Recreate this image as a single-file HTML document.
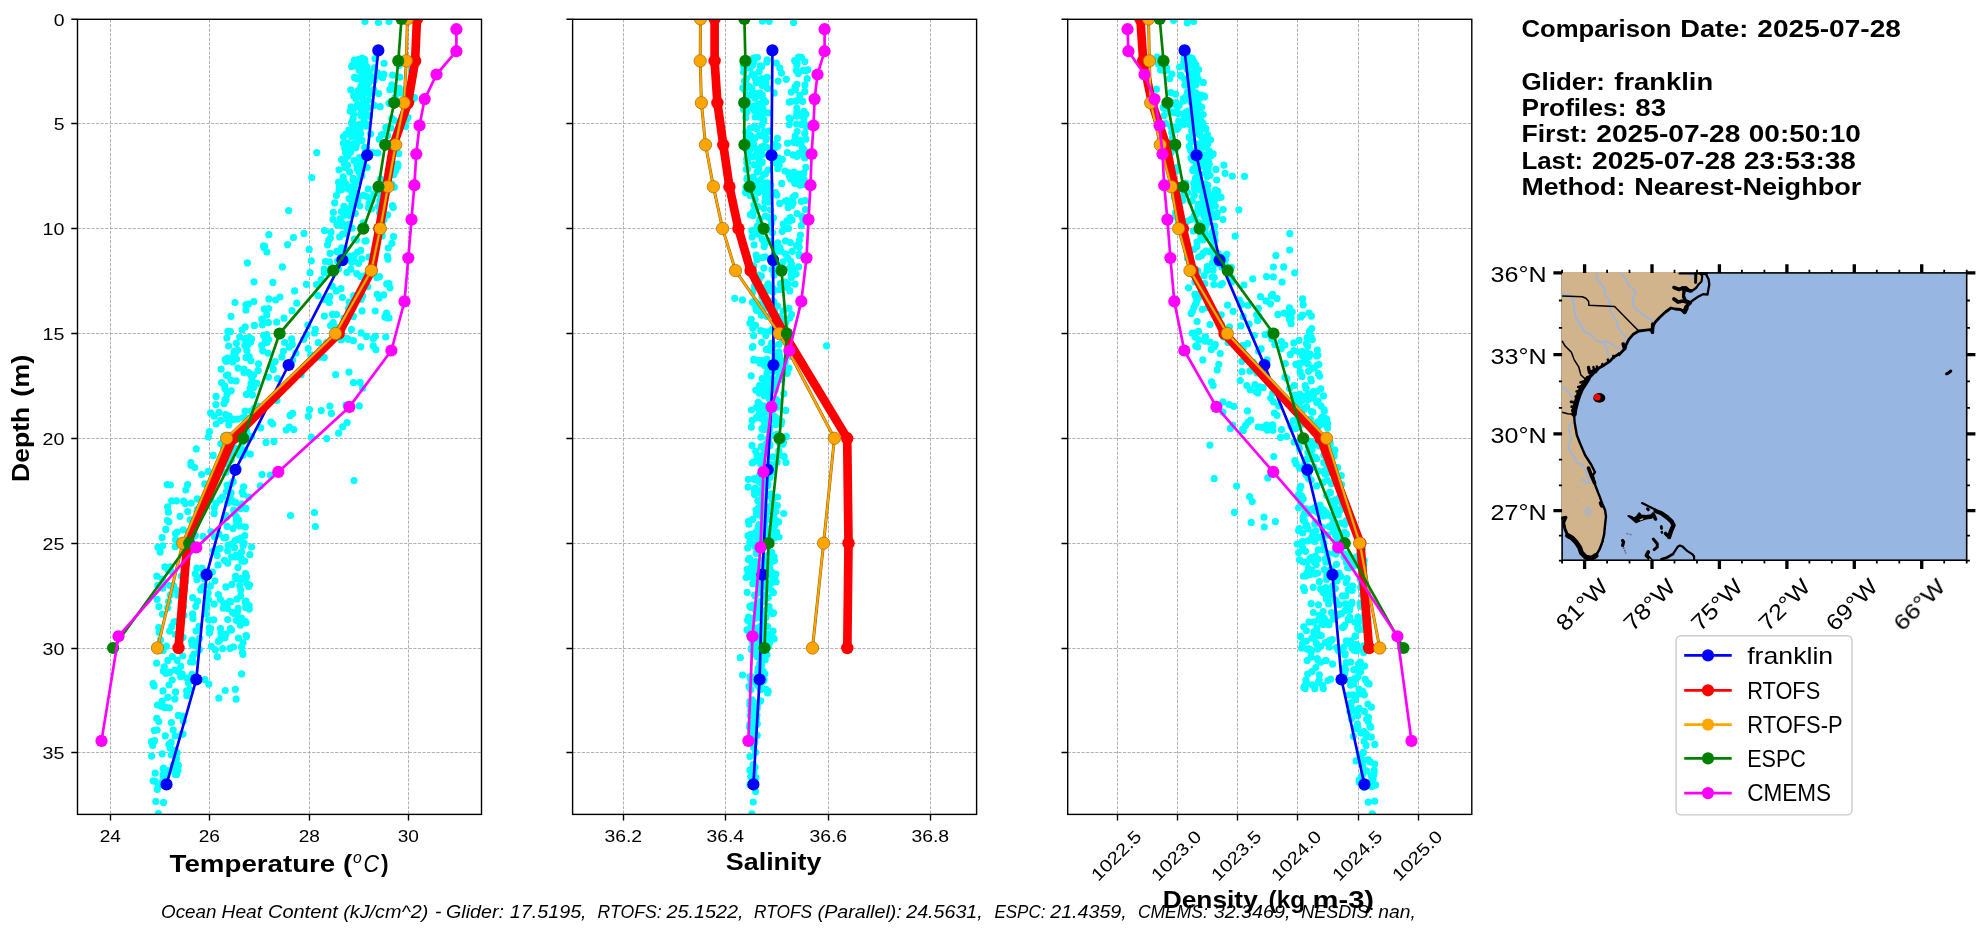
<!DOCTYPE html>
<html><head><meta charset="utf-8"><title>Glider comparison</title>
<style>html,body{margin:0;padding:0;background:#fff;}body{width:1978px;height:934px;overflow:hidden;}</style>
</head><body>
<svg width="1978" height="934" viewBox="0 0 1978 934" font-family='"Liberation Sans", sans-serif' style="display:block">
<rect width="1978" height="934" fill="#fff"/>
<defs>
<clipPath id="cp0"><rect x="77.5" y="19.3" width="404.0" height="795.1"/></clipPath>
<clipPath id="cp1"><rect x="572.6" y="19.3" width="404.0" height="795.1"/></clipPath>
<clipPath id="cp2"><rect x="1067.7" y="19.3" width="404.0999999999999" height="795.1"/></clipPath>
</defs>
<path d="M77.5 123.5H481.5M77.5 228.5H481.5M77.5 333.5H481.5M77.5 438.5H481.5M77.5 543.5H481.5M77.5 648.5H481.5M77.5 752.5H481.5M110.5 19.3V814.4M209.5 19.3V814.4M309.5 19.3V814.4M408.5 19.3V814.4" stroke="#a6a6a6" stroke-width="0.87" stroke-dasharray="3.2 1.4" fill="none"/>
<g clip-path="url(#cp0)">
<path d="M365 21.5h0M378.5 22.5h0M389 21.5h0M158.4 786.1h0M155.8 801.5h0M163.5 802.4h0M158.4 813.7h0M354 480.5h0M290.5 515.5h0M314.5 512.5h0M315.4 526.5h0M262 474.5h0M361.3 116h0M362.4 112.6h0M353.7 114.3h0M358.1 62.1h0M362.4 103.8h0M363.8 105.1h0M356.3 78.1h0M356.6 66.1h0M363.7 68.2h0M363.2 86.7h0M369.5 115.9h0M365.7 85.4h0M369.6 93.7h0M367.2 73.4h0M357.9 90.9h0M356.8 78.7h0M369.3 72.2h0M359.6 89.3h0M362.3 58.2h0M362.8 65.8h0M361 85.8h0M363.9 92.8h0M359.5 67h0M360.8 114.2h0M365.7 104h0M361.7 75.6h0M361 59.4h0M374.4 67.8h0M366.4 66.4h0M361.1 107.9h0M358.4 59.5h0M366.6 77.8h0M351 106.8h0M364.2 85.7h0M367.3 106.9h0M357.5 104.6h0M361.2 106.7h0M366 68.3h0M368.4 83.6h0M367.6 107.6h0M366.4 86.6h0M353.7 96.1h0M359.2 78.1h0M351.6 66.6h0M361.6 112.4h0M365.9 108.3h0M364.2 100.9h0M356.2 61.3h0M367.7 81.1h0M364.5 59.3h0M366.9 87.9h0M370.6 76.3h0M366.6 114.6h0M364.9 61.5h0M364.5 83h0M368.5 100h0M350.2 111.1h0M362.6 79h0M352.1 109.4h0M361.9 67.7h0M358.6 92.7h0M373.7 89.6h0M363.7 87.5h0M354.6 77.4h0M352.4 65h0M351.8 108.4h0M362.8 61.3h0M362.7 98.2h0M362.5 95.9h0M359.1 70.2h0M362.2 83.4h0M357.8 107.2h0M374.2 80.3h0M350.8 89.8h0M353.4 113.2h0M366.8 108.7h0M366.4 108.2h0M365.4 82h0M361.6 109.3h0M365.8 79.9h0M361 70h0M354.5 60.2h0M351.7 110.5h0M366.9 67.1h0M368.5 75.8h0M365.5 83.2h0M355.8 98.7h0M363.4 86.2h0M383.8 74.2h0M378.6 93.6h0M399 88.7h0M391.8 84.9h0M395.1 97.3h0M391 101.3h0M384.1 63.3h0M374.2 105.4h0M399.1 65.5h0M400.3 92.9h0M400.4 103h0M392.6 75.2h0M399.8 77.2h0M378.9 74.9h0M380.2 106.7h0M389.8 89.6h0M382.7 77.7h0M380.8 76.6h0M389 103.3h0M396 90.4h0M377.3 72.7h0M375 58.7h0M407.9 117.4h0M414.5 97.7h0M406.5 88.5h0M399.3 88.4h0M401.8 103.3h0M412.5 99.6h0M411.5 70.4h0M411.6 96.8h0M350.7 152.1h0M366.1 126.1h0M347.1 143h0M349.3 144.6h0M366.9 149h0M348.9 130.2h0M343.3 143.3h0M354.2 160.7h0M354.5 134.3h0M346.8 144.8h0M349 148h0M356.7 164.5h0M348 156.1h0M344.8 148.2h0M359.7 129.4h0M347.6 165h0M349 152.5h0M364.1 120.6h0M361.9 140.4h0M357.4 164.5h0M353.1 125.4h0M345.6 152.7h0M359.6 157.7h0M351.6 136.6h0M354.4 126.7h0M353.7 127.8h0M345 167.5h0M347.9 143.1h0M367 124.6h0M352.6 120.5h0M344.3 163.7h0M358.8 136.6h0M357.7 137.8h0M353.2 118.4h0M360.8 133.6h0M355.5 148h0M344.6 161.3h0M353.9 144.9h0M346 134.1h0M368.4 153.6h0M365.3 150.1h0M358.6 166.4h0M351.9 145.2h0M359.9 131.7h0M363 161.4h0M364.7 147.3h0M356.4 144.5h0M344.7 159.4h0M354 143.7h0M343.5 136.7h0M351.5 123.1h0M341.6 159.7h0M359.8 124.4h0M347.5 145.3h0M358.6 124.6h0M377.7 152.9h0M389.9 165.8h0M387.7 135.7h0M385.8 127.4h0M398 164.6h0M383.8 134h0M386.3 144.2h0M367.1 167.5h0M391 127.9h0M381.3 134.8h0M372.6 152.7h0M406.6 119.5h0M370.6 133.8h0M394.8 120.8h0M379.3 139.2h0M397.6 167h0M398.7 153.7h0M405.6 126.3h0M391.8 118.4h0M397.4 164.1h0M341.5 211.6h0M341.9 225.4h0M342.6 225.1h0M343.4 180h0M351.5 199.1h0M348.4 188.9h0M354.8 192.3h0M349.1 198.6h0M352 228.2h0M349 224h0M350.3 227.5h0M339.4 225.1h0M357.4 194.7h0M336.4 195.5h0M342.9 212.5h0M352.7 212.5h0M350.4 208.1h0M333.3 212.3h0M346.6 227.3h0M351 210.9h0M340.2 218.7h0M353 200.1h0M339.4 186.8h0M349.8 215.7h0M343.2 176.9h0M351.9 191.3h0M354.4 186.7h0M352.5 198.3h0M340.8 184.6h0M344.9 224.8h0M341 222.1h0M353.1 178.4h0M345.6 183.5h0M358.9 172.1h0M333 219.5h0M353.4 202.8h0M357.4 181.5h0M351.9 202.7h0M351.6 212.9h0M343.9 206.3h0M341.7 189.5h0M353.1 179.9h0M362.4 169.1h0M339 190.5h0M357.2 168.7h0M353.6 194.2h0M357.8 200.1h0M348.9 214.9h0M334.7 202.9h0M349.2 186.9h0M346.5 211.3h0M361.9 175.7h0M344.9 215.1h0M352 192.5h0M360 174.9h0M356.4 193.6h0M336.9 224.6h0M350.3 212.7h0M338.6 182.2h0M349.6 171.9h0M350.5 209.8h0M339 169.8h0M355.3 213.3h0M395.7 170.8h0M388.3 169.9h0M363.1 222.8h0M378.4 206.6h0M363.6 223.4h0M366.8 196.5h0M386 193.9h0M356.2 200.4h0M383.2 186.1h0M377.6 227.2h0M382.1 224.6h0M380.4 208.5h0M392.4 205.6h0M373.8 194.3h0M368.3 189h0M393.3 173.8h0M383.9 219.7h0M369 203.3h0M379.9 200.7h0M371.5 208.8h0M363.6 195.4h0M393.7 174.6h0M380.3 188.5h0M360.9 228.4h0M371.8 200.1h0M377.4 187.7h0M393.3 207.5h0M368.5 207.8h0M379.5 213h0M391.8 184.2h0M394.3 172.7h0M380.7 195.9h0M360.4 168.7h0M359.7 205.8h0M383.3 209.2h0M380.5 179.1h0M390.2 184.5h0M387.7 214.8h0M394.3 187.2h0M316.8 152.6h0M311.7 177.7h0M288.6 210.6h0M386.8 283.9h0M306.4 284.3h0M382.2 235.9h0M338.5 269h0M376.9 277.6h0M310.1 272.7h0M329.7 261.9h0M340.8 254.4h0M368.9 257.2h0M331 232.2h0M373.1 255.1h0M339.6 236.8h0M365 241.1h0M350.8 269.2h0M378.3 235.8h0M364.1 282.6h0M340.9 288.7h0M357.5 252h0M356.8 273.7h0M321.2 279.6h0M352.8 260.3h0M356.4 239.8h0M358.5 263.3h0M336.9 251.4h0M328.7 240h0M361.1 299.5h0M324.2 299.5h0M338.2 251.8h0M366.1 240.8h0M342.4 297.5h0M344.7 248.3h0M346.3 233.5h0M366.4 285.2h0M324.5 230.6h0M324.5 273h0M390 287.8h0M365.2 275.7h0M332.2 286.2h0M383.8 294.8h0M388 259.1h0M354.2 261.2h0M358.5 297h0M330 253.4h0M329.8 296.4h0M342.4 258.2h0M343.9 259.9h0M362.6 295.9h0M388.3 248h0M346.9 272.5h0M354.4 255.1h0M318 295.6h0M349.8 256.4h0M377.2 294.3h0M316.5 284.6h0M387.3 256.3h0M361.8 258.8h0M341.6 247.8h0M337.6 260.9h0M360.7 276.4h0M367.7 286.7h0M324.3 269.2h0M373.6 261.5h0M325.4 261.5h0M351.7 261.9h0M379.5 276.6h0M342.7 234.1h0M327.5 244.8h0M353.9 295.6h0M391.9 243.3h0M336.2 290.9h0M360.7 250.4h0M350.3 260.5h0M353.6 296.1h0M389 283.6h0M393.5 236.7h0M379.1 298.1h0M330.4 238h0M354.3 239.1h0M294.6 290.9h0M304 233.4h0M264.5 246h0M309.2 249.4h0M311.3 260.8h0M266.9 252h0M264.2 247.7h0M263.6 245.9h0M272.9 282.4h0M268.9 298.9h0M254 281.8h0M280 297h0M287.6 244.6h0M268.9 234.7h0M282.4 266.9h0M247.4 262.9h0M293.5 237.5h0M254.4 325.4h0M248.4 304.2h0M239.7 337h0M244.7 338.9h0M231 316.3h0M264.4 308.9h0M268.4 322.6h0M235 302.5h0M266.7 314.9h0M262.2 319.6h0M275.6 300h0M262.3 324.8h0M266.8 334.6h0M245.9 304.8h0M276.7 322.2h0M246 310.2h0M230.4 331.6h0M242.1 329.8h0M245.2 326.8h0M261.8 319h0M253.8 301.5h0M263.6 335.4h0M268.6 308.5h0M227.9 331.4h0M335.6 336h0M330.6 325.6h0M362 310.9h0M341.1 340h0M349.2 302.2h0M384.9 316.9h0M389 317.9h0M280.3 336h0M307.8 325.1h0M348.5 308.4h0M366.4 336.4h0M354.1 301h0M315.3 329.3h0M385.8 337h0M296.7 303.2h0M284 318.1h0M324.4 316.1h0M361.1 332.9h0M351.4 329.4h0M314.6 332.9h0M329.3 302.5h0M353.4 316.4h0M386.9 317.8h0M335 326.9h0M336.6 314.5h0M340.1 338h0M386.6 313.1h0M333.2 322.6h0M306.5 334.4h0M332.5 314.4h0M291.6 338.9h0M373.4 338.4h0M375.2 311h0M375.4 336.3h0M344 318.2h0M292 310.7h0M258.5 363.8h0M236.5 359h0M226.3 361.5h0M232.7 361.9h0M228.6 346h0M253.6 374.9h0M258.1 370.4h0M250.7 374.6h0M261.8 345.4h0M256.9 383.4h0M248.7 372.7h0M235.7 352.7h0M250.9 360.7h0M246.6 338h0M226.9 338h0M265.3 341.3h0M247.9 344.6h0M249.2 356.6h0M226.5 375.3h0M225.2 359.6h0M221.6 382.7h0M244.9 345.4h0M227.4 358.1h0M238 368.1h0M231 380.3h0M268.6 339.5h0M249.3 337.7h0M262.7 350.8h0M236.4 343.3h0M244 369.1h0M234.2 351.6h0M246 357.4h0M236.1 380.9h0M266 341.7h0M250.8 374.9h0M251.5 338.9h0M233.8 354.6h0M252 379.1h0M227.9 374.8h0M266.9 342.5h0M221.1 369.2h0M246.9 350.5h0M250.5 342.2h0M237.7 350.2h0M233 357.6h0M244 372.5h0M281.9 356.9h0M283.4 351.3h0M301.1 374.7h0M292.3 344.4h0M308.2 348.5h0M335.7 374.7h0M375.9 349.7h0M275.2 361.6h0M311.3 355h0M360.8 346.8h0M295.9 353.2h0M284.7 342.5h0M360.1 382.3h0M315.1 357.9h0M310.7 354.9h0M303.7 339.3h0M271.7 364.9h0M346.2 338.2h0M348.2 339.3h0M289.3 347.1h0M273.3 369.4h0M349 372.1h0M306.6 364h0M318.3 342.7h0M353.4 340.7h0M319.8 357.2h0M324.2 357.4h0M326.7 342.7h0M353.5 382.7h0M373.2 345.9h0M292.7 360h0M277.5 378.5h0M268 353.1h0M268.4 377.1h0M250.1 390.6h0M242.9 435.4h0M246.5 394.4h0M226.1 400.1h0M226.9 418.9h0M224.5 385.8h0M250.9 418.3h0M215.9 404.6h0M251 383.8h0M210.6 412.9h0M231.2 390.8h0M233 419.4h0M234.3 434.2h0M246.6 430.7h0M229.2 416.2h0M225 399.5h0M243.2 417.5h0M216.2 424h0M225.7 414.5h0M254.4 408h0M231.2 439.8h0M227.9 435.4h0M244.7 417.2h0M216.1 396.4h0M219 412.4h0M234.9 439.6h0M220.6 420.4h0M250 388.5h0M224.2 436.2h0M253.4 387.7h0M224.1 403.6h0M228.8 424.8h0M224.9 388.6h0M237.7 419.1h0M245.1 411h0M251.5 436.3h0M209.4 431.7h0M248.1 422.6h0M208.3 437h0M241.6 431.1h0M248.9 418.9h0M252.6 395.1h0M245.4 422.8h0M250.9 411h0M214.2 416.2h0M227 394.3h0M260.2 406.9h0M331.4 413.4h0M289.4 427.2h0M346 405.1h0M276.9 400.5h0M258.5 406.4h0M309.5 409.7h0M290.1 415.4h0M311.3 437.2h0M292.6 413.4h0M272.7 424h0M342.7 426.8h0M270.9 422h0M347.1 422.6h0M338.6 433.2h0M286.3 429.8h0M308.4 416.3h0M362.6 388.1h0M321.2 410.6h0M293.8 429.6h0M260.7 427.8h0M359.3 405.9h0M326.8 438.6h0M329.9 406h0M227.9 489.1h0M208.2 471.4h0M194.8 467.5h0M241.7 449.6h0M239.6 454.9h0M231.3 484h0M233.2 481.7h0M187.6 484.7h0M250.3 454.2h0M223.5 448.8h0M227 485h0M196.3 448.9h0M226.6 491.4h0M231.2 459.8h0M232.3 443.2h0M204.8 483.9h0M213.2 455.4h0M229.2 446.1h0M225.8 472.3h0M214 473.4h0M190.9 465.3h0M226.5 463.8h0M242.8 441.8h0M220.9 443.7h0M185.8 490h0M232.1 453.3h0M243.6 486.8h0M190.9 462.7h0M237.9 468.1h0M244.7 450.4h0M243 455.3h0M201.6 474.5h0M222.5 472.5h0M234.9 448.2h0M242 442.5h0M228.4 445.1h0M260.4 485.8h0M266 442.4h0M274 441.4h0M270.5 475.2h0M170.4 485h0M167.2 484.5h0M187.7 511.5h0M210.9 531.6h0M197.3 498.8h0M167.6 506.9h0M196.6 518h0M225.1 516.6h0M193.3 546.8h0M175.5 533.5h0M175.2 546.7h0M197.5 509.4h0M195 524.7h0M171.7 500.8h0M222.4 497h0M162.1 537.6h0M214.2 513.4h0M197 511.4h0M177.2 532.1h0M216 503.5h0M194.5 536.1h0M191.3 538.5h0M195.1 522.3h0M210.7 498.8h0M226.1 515.6h0M162.6 545.8h0M165.8 529.4h0M195.3 535.4h0M183.3 529.8h0M219 534.1h0M185.3 503.4h0M175.6 539.7h0M176.5 500.8h0M167.5 520.5h0M192.4 533.1h0M180 516.3h0M183.6 501.2h0M197.4 515.2h0M197.4 511.8h0M200 506.8h0M168.4 512.2h0M214.5 536.8h0M168.9 521.8h0M230.8 493.6h0M203.1 536.3h0M191.2 503.1h0M220.1 499.9h0M226.6 517.1h0M190.2 519.8h0M214.3 507.6h0M245.3 526.9h0M230.7 498.7h0M238.7 520.2h0M234.2 513.8h0M227.7 502.9h0M240.6 538h0M248.8 497.2h0M236.2 516.5h0M240.9 506.9h0M234.1 502h0M237.3 539.5h0M244.1 543h0M227.1 526.3h0M236.7 524.2h0M233.8 510.2h0M244.7 535.7h0M245.9 508.4h0M231.6 500.2h0M243.2 494.2h0M224 538h0M232 544h0M235.6 502.4h0M225.9 537.4h0M238.4 539.4h0M243.1 545.8h0M235.1 540.5h0M240.8 508.6h0M239.8 525.9h0M241.9 504h0M231.1 492.9h0M236.3 520h0M242.2 492h0M228.1 545h0M233 528.6h0M192.6 613.9h0M183 637.3h0M175.9 589.9h0M158.7 627.5h0M183 613.9h0M187.1 558h0M195.3 573.8h0M175.5 634.5h0M178.8 622.4h0M183.8 615.2h0M193 618.4h0M198 646.9h0M157.1 599.3h0M157.9 585.4h0M177.8 595.2h0M157.9 547.3h0M171.8 626.4h0M196.9 568.2h0M162.4 579.1h0M160.2 552.2h0M168.1 570.1h0M163.1 650.4h0M156.8 576.1h0M191.6 641.4h0M186.2 559.7h0M192.6 597.7h0M196.1 630.9h0M170.3 595.1h0M183.7 606.5h0M170.3 566.9h0M162.5 614.1h0M176.2 621.4h0M168.5 601.5h0M162.6 588.2h0M195.8 606.3h0M181.3 576h0M184.7 589.5h0M173.8 622.2h0M167.7 607.8h0M185.4 582.1h0M170.7 571.2h0M164.9 566.9h0M158.9 606.6h0M192.2 644.8h0M180.1 637.6h0M159.1 632.5h0M166.4 646.2h0M196.1 547.8h0M196.9 579.7h0M192.3 640.2h0M180.4 631.1h0M185.8 557h0M197.7 577h0M162.5 584.9h0M169.7 631.1h0M186.1 559.4h0M169.7 585.5h0M173.4 585.6h0M158.1 645.8h0M196.6 641.8h0M197.6 601.2h0M160.5 639.9h0M213.8 619.8h0M229.5 601.4h0M227.7 563.2h0M220.4 599.5h0M251.6 547h0M249.5 584.9h0M231.6 557.1h0M230 648.3h0M210.4 586.2h0M208.2 593.1h0M215.4 649.8h0M225.9 586.9h0M249.8 554.7h0M240.5 625.1h0M220 639.4h0M249.1 605.5h0M230.6 602h0M240.8 590h0M224.5 560.3h0M214.9 580.8h0M214.2 604.1h0M244.9 621h0M249.1 605.8h0M236.2 556.9h0M240.7 595.8h0M226.9 605h0M241.3 578.7h0M231.5 630.1h0M241.6 646.9h0M241.1 579.6h0M236 555h0M225.1 637.8h0M235.6 576.1h0M245.5 573.6h0M238.5 638h0M226 634h0M246.1 601.1h0M221 633.6h0M246.7 576.8h0M242 561.2h0M238 567.6h0M241.6 552.1h0M248.6 586.5h0M249.3 609.1h0M237.4 611.7h0M220.5 628.5h0M218.4 594.5h0M208.4 599.7h0M246.7 583.3h0M246.1 622.8h0M246.1 635.6h0M224 603.6h0M217.2 555.4h0M241.4 618h0M246.5 636.4h0M236.6 613.5h0M227.7 550.9h0M227.7 619.5h0M212.4 572h0M244.7 561.1h0M239.7 585.6h0M238.1 608.3h0M222.6 648.6h0M211.3 646.3h0M236.2 620.3h0M235.7 578.8h0M232.4 612.3h0M233.5 646.8h0M213.6 550.8h0M218 564.9h0M231.8 584.4h0M210.6 628.6h0M246.3 604.1h0M236.9 599.2h0M209.4 632.9h0M245.2 602.2h0M223.2 608.2h0M240.1 624.2h0M220.2 548.5h0M209.3 627.8h0M245.7 607.4h0M230.3 628.5h0M227.5 608.5h0M234.5 547.7h0M241.2 558h0M243.1 642.6h0M218.4 641.3h0M234.2 613.4h0M208.5 619.8h0M218.2 549h0M204.6 578.7h0M200.7 589.9h0M199.4 649.8h0M203.5 586.6h0M203.6 572.4h0M206.3 604.7h0M199.6 638.3h0M202.2 568.3h0M206 613.6h0M199 626.4h0M206.8 606.9h0M201.8 587.9h0M162.2 701.2h0M164.3 666.9h0M153.1 683.7h0M187 678h0M182.8 656h0M192 674.3h0M186.7 690.9h0M174.9 699.1h0M167.9 660.4h0M178.4 671.7h0M192.9 661.9h0M186.9 695.7h0M188.5 682.8h0M169 685h0M190.6 661.9h0M194.1 654h0M175.6 691.9h0M180.7 676.7h0M163.3 670.9h0M163.9 670.5h0M182.2 674.2h0M172.4 656.5h0M165.8 673.3h0M172.2 680h0M189.6 689.4h0M167.9 697.3h0M174.8 670h0M169.6 672.4h0M180.7 666.3h0M177.1 660.3h0M163 690.9h0M156.6 663.2h0M192.6 656.7h0M154.1 685.9h0M218.9 698.2h0M242.5 652.6h0M243 654.3h0M241.6 673.9h0M225.2 690.5h0M236.1 699.2h0M204.8 679.7h0M208.8 684.2h0M217.4 656.8h0M235.4 689.3h0M175.2 736h0M168.6 784.5h0M157.3 789.3h0M163.2 768.5h0M165.3 735.8h0M151.4 741.5h0M163.5 774.2h0M157.5 705h0M155.2 773.2h0M175.3 774.5h0M154.5 730.4h0M175.1 750h0M177 752.9h0M163.5 768.2h0M164.2 707.5h0M152.7 745.5h0M182.3 716.1h0M178.4 715.4h0M176.6 774.4h0M155.1 781.3h0M165.8 707.3h0M162.3 781.8h0M168.9 744.4h0M171.2 742.4h0M153.2 780.8h0M175 768.1h0M178.4 765.2h0M181.8 734.1h0M176.5 758.9h0M156.7 718.3h0M169.4 707.8h0M154.6 740.7h0M165.6 784.9h0M158.8 721.5h0M157.1 730h0M173.2 730.1h0M161 706.2h0M183.3 721.1h0M178 770.4h0M162.2 753.8h0M168.9 770.7h0M176.2 752h0M171.4 722.5h0M163.1 775.8h0M151.6 756.1h0M166.7 774.3h0M183 734.1h0M171.3 755h0M170 747.9h0M173.2 765h0" stroke="#00ffff" stroke-width="7.2" stroke-linecap="round" fill="none"/>
<polyline points="378.3,50.4 367.2,155.3 342.4,260.1 288.6,365 235.4,469.8 206.6,574.7 196.3,679.5 166.5,784.4" fill="none" stroke="#0000ff" stroke-width="2.7" stroke-linejoin="round"/>
<circle cx="378.3" cy="50.4" r="6.1" fill="#0000ff"/>
<circle cx="367.2" cy="155.3" r="6.1" fill="#0000ff"/>
<circle cx="342.4" cy="260.1" r="6.1" fill="#0000ff"/>
<circle cx="288.6" cy="365" r="6.1" fill="#0000ff"/>
<circle cx="235.4" cy="469.8" r="6.1" fill="#0000ff"/>
<circle cx="206.6" cy="574.7" r="6.1" fill="#0000ff"/>
<circle cx="196.3" cy="679.5" r="6.1" fill="#0000ff"/>
<circle cx="166.5" cy="784.4" r="6.1" fill="#0000ff"/>
<polyline points="417,18.9 415.1,60.9 408,102.8 393.5,144.8 386.5,186.7 379.3,228.6 371.5,270.6 338.7,333.5 233,438.3 187.3,543.2 178.5,648" fill="none" stroke="#ff0000" stroke-width="8.7" stroke-linejoin="round"/>
<circle cx="417" cy="18.9" r="6.2" fill="#ff0000"/>
<circle cx="415.1" cy="60.9" r="6.2" fill="#ff0000"/>
<circle cx="408" cy="102.8" r="6.2" fill="#ff0000"/>
<circle cx="393.5" cy="144.8" r="6.2" fill="#ff0000"/>
<circle cx="386.5" cy="186.7" r="6.2" fill="#ff0000"/>
<circle cx="379.3" cy="228.6" r="6.2" fill="#ff0000"/>
<circle cx="371.5" cy="270.6" r="6.2" fill="#ff0000"/>
<circle cx="338.7" cy="333.5" r="6.2" fill="#ff0000"/>
<circle cx="233" cy="438.3" r="6.2" fill="#ff0000"/>
<circle cx="187.3" cy="543.2" r="6.2" fill="#ff0000"/>
<circle cx="178.5" cy="648" r="6.2" fill="#ff0000"/>
<polyline points="407.4,18.9 406.3,60.9 404,102.8 395.7,144.8 388,186.7 380.3,228.6 371.3,270.6 335.5,333.5 226.6,438.3 182.8,543.2 157.5,648" fill="none" stroke="#9c6200" stroke-width="3.0" stroke-linejoin="round"/>
<polyline points="407.4,18.9 406.3,60.9 404,102.8 395.7,144.8 388,186.7 380.3,228.6 371.3,270.6 335.5,333.5 226.6,438.3 182.8,543.2 157.5,648" fill="none" stroke="#ffa500" stroke-width="2.0" stroke-linejoin="round"/>
<circle cx="407.4" cy="18.9" r="6.2" fill="#ffa500" stroke="#a06a00" stroke-width="0.7"/>
<circle cx="406.3" cy="60.9" r="6.2" fill="#ffa500" stroke="#a06a00" stroke-width="0.7"/>
<circle cx="404" cy="102.8" r="6.2" fill="#ffa500" stroke="#a06a00" stroke-width="0.7"/>
<circle cx="395.7" cy="144.8" r="6.2" fill="#ffa500" stroke="#a06a00" stroke-width="0.7"/>
<circle cx="388" cy="186.7" r="6.2" fill="#ffa500" stroke="#a06a00" stroke-width="0.7"/>
<circle cx="380.3" cy="228.6" r="6.2" fill="#ffa500" stroke="#a06a00" stroke-width="0.7"/>
<circle cx="371.3" cy="270.6" r="6.2" fill="#ffa500" stroke="#a06a00" stroke-width="0.7"/>
<circle cx="335.5" cy="333.5" r="6.2" fill="#ffa500" stroke="#a06a00" stroke-width="0.7"/>
<circle cx="226.6" cy="438.3" r="6.2" fill="#ffa500" stroke="#a06a00" stroke-width="0.7"/>
<circle cx="182.8" cy="543.2" r="6.2" fill="#ffa500" stroke="#a06a00" stroke-width="0.7"/>
<circle cx="157.5" cy="648" r="6.2" fill="#ffa500" stroke="#a06a00" stroke-width="0.7"/>
<polyline points="401.5,18.9 398.3,60.9 394.2,102.8 385.2,144.8 378.5,186.7 363.3,228.6 333.2,270.6 279.6,333.5 243.3,438.3 189.2,543.2 113.1,648" fill="none" stroke="#008000" stroke-width="2.7" stroke-linejoin="round"/>
<circle cx="401.5" cy="18.9" r="6.1" fill="#008000"/>
<circle cx="398.3" cy="60.9" r="6.1" fill="#008000"/>
<circle cx="394.2" cy="102.8" r="6.1" fill="#008000"/>
<circle cx="385.2" cy="144.8" r="6.1" fill="#008000"/>
<circle cx="378.5" cy="186.7" r="6.1" fill="#008000"/>
<circle cx="363.3" cy="228.6" r="6.1" fill="#008000"/>
<circle cx="333.2" cy="270.6" r="6.1" fill="#008000"/>
<circle cx="279.6" cy="333.5" r="6.1" fill="#008000"/>
<circle cx="243.3" cy="438.3" r="6.1" fill="#008000"/>
<circle cx="189.2" cy="543.2" r="6.1" fill="#008000"/>
<circle cx="113.1" cy="648" r="6.1" fill="#008000"/>
<polyline points="456.4,29.2 456.4,51.2 436.5,74.5 424.7,99.1 419.5,125.5 416.3,154 414.4,185.2 411.5,219.6 408.3,258 404.5,301.4 391.4,350.5 349.4,406.9 278.3,471.9 196.3,547.4 118.5,636.3 101.5,740.9" fill="none" stroke="#ff00ff" stroke-width="2.7" stroke-linejoin="round"/>
<circle cx="456.4" cy="29.2" r="6.1" fill="#ff00ff"/>
<circle cx="456.4" cy="51.2" r="6.1" fill="#ff00ff"/>
<circle cx="436.5" cy="74.5" r="6.1" fill="#ff00ff"/>
<circle cx="424.7" cy="99.1" r="6.1" fill="#ff00ff"/>
<circle cx="419.5" cy="125.5" r="6.1" fill="#ff00ff"/>
<circle cx="416.3" cy="154" r="6.1" fill="#ff00ff"/>
<circle cx="414.4" cy="185.2" r="6.1" fill="#ff00ff"/>
<circle cx="411.5" cy="219.6" r="6.1" fill="#ff00ff"/>
<circle cx="408.3" cy="258" r="6.1" fill="#ff00ff"/>
<circle cx="404.5" cy="301.4" r="6.1" fill="#ff00ff"/>
<circle cx="391.4" cy="350.5" r="6.1" fill="#ff00ff"/>
<circle cx="349.4" cy="406.9" r="6.1" fill="#ff00ff"/>
<circle cx="278.3" cy="471.9" r="6.1" fill="#ff00ff"/>
<circle cx="196.3" cy="547.4" r="6.1" fill="#ff00ff"/>
<circle cx="118.5" cy="636.3" r="6.1" fill="#ff00ff"/>
<circle cx="101.5" cy="740.9" r="6.1" fill="#ff00ff"/>
</g>
<rect x="77.5" y="19.3" width="404.0" height="795.1" fill="none" stroke="#000" stroke-width="1.4"/>
<path d="M77.5 19.3h-6.2M77.5 123.5h-6.2M77.5 228.5h-6.2M77.5 333.5h-6.2M77.5 438.5h-6.2M77.5 543.5h-6.2M77.5 648.5h-6.2M77.5 752.5h-6.2M110.5 814.4v6.2M209.5 814.4v6.2M309.5 814.4v6.2M408.5 814.4v6.2" stroke="#000" stroke-width="1.4" fill="none"/>
<path d="M572.6 123.5H976.6M572.6 228.5H976.6M572.6 333.5H976.6M572.6 438.5H976.6M572.6 543.5H976.6M572.6 648.5H976.6M572.6 752.5H976.6M623.5 19.3V814.4M725.5 19.3V814.4M828.5 19.3V814.4M930.5 19.3V814.4" stroke="#a6a6a6" stroke-width="0.87" stroke-dasharray="3.2 1.4" fill="none"/>
<g clip-path="url(#cp1)">
<path d="M762.4 20.9h0M769.2 21.3h0M793.6 22.6h0M753.2 802h0M751.9 813.8h0M754.3 110.6h0M755.4 106.7h0M760.4 65.8h0M763.6 99.5h0M744.1 69.6h0M754.6 105.9h0M760 92.9h0M765.7 102h0M763.1 103.9h0M761 94.6h0M743.6 109.5h0M768.2 88.5h0M742.8 87.8h0M747 111.8h0M751.8 88.8h0M748 102.1h0M752 74.8h0M756.9 111.2h0M754.7 74.8h0M752.3 74.7h0M753.7 58.1h0M763.9 112.4h0M752.5 65.5h0M747.9 95.5h0M745.6 83h0M760.8 108.5h0M746.6 78.3h0M757.5 57.5h0M744.7 90.1h0M753.6 60.5h0M742.7 101.2h0M758.8 104.1h0M755.3 57.8h0M743.6 72h0M760.5 111.5h0M754.7 93h0M765.9 82.8h0M759.8 95.3h0M747.8 108.6h0M767.2 77.3h0M762.5 85.7h0M744.5 81.1h0M754.9 98.1h0M749.3 86.7h0M761.8 78.6h0M767.3 88.5h0M767.9 112.9h0M762.3 95.2h0M761.5 66.8h0M743.9 64h0M766.8 62.2h0M743.3 65.3h0M763.1 109.4h0M755.4 78.5h0M767.3 59.9h0M762.4 114.2h0M759.1 71.6h0M750.5 95.1h0M754 62h0M763.5 80.9h0M756.3 82.8h0M748.6 106.4h0M744.7 62.2h0M750.4 67.9h0M798.6 57h0M795.5 89.6h0M807.9 69.8h0M795 87h0M796.9 112.1h0M796.9 84.4h0M804.8 91.4h0M798.3 73.6h0M803.2 70.3h0M806.3 70.4h0M797.1 63.5h0M804.8 61.6h0M796.8 108h0M807.2 78.7h0M802.7 101.3h0M804.9 84.9h0M803.9 111.4h0M799.9 95.4h0M799.2 114.9h0M796.3 70.6h0M796.8 65.3h0M796.5 115.7h0M806 114.3h0M796.2 100.9h0M801.4 57.3h0M794.7 60.7h0M776.3 63.1h0M791.2 101.5h0M791.2 92.1h0M778.1 81.1h0M789.2 102.2h0M779.8 68h0M774.2 92.9h0M786.3 79.3h0M781.5 73.1h0M750.5 149h0M753 215.6h0M767.1 182.8h0M757.6 206.7h0M747.6 143.8h0M752.2 213.9h0M746.5 187.5h0M748.7 152.5h0M765.4 196.9h0M747.3 177.8h0M766 139.8h0M755.1 210.2h0M745.6 192.6h0M755.2 181h0M761.5 150.3h0M762.2 188.5h0M747.8 159.5h0M765.5 173.7h0M769 131.1h0M765.3 216.2h0M766.6 193h0M763.1 135.4h0M754.6 126.2h0M753.3 156.7h0M770.4 230.3h0M769.1 188.6h0M768 170h0M753.5 144h0M753.3 177h0M760.7 152.2h0M747.4 162h0M764.8 191.8h0M768.7 217.5h0M758.8 169.1h0M750.4 214.7h0M755.1 117h0M764.1 131.7h0M745.8 117.4h0M762.3 162.2h0M758 151.3h0M757.3 226.1h0M763.8 119.9h0M759.2 135.4h0M759.3 159.6h0M751.2 190.8h0M746.7 159h0M754.1 147.5h0M756.7 185.6h0M767.1 192.5h0M762.2 154.7h0M771.4 223.1h0M763.7 121.4h0M747.6 168.9h0M759.8 219.3h0M750.2 195.6h0M750.9 142.6h0M746.3 169.3h0M770.1 191.6h0M751.9 230.6h0M758.3 116.4h0M761.8 146.9h0M768 198h0M767.4 147.7h0M770.6 209.8h0M754.7 230.1h0M761 179.6h0M770.8 185.1h0M755.2 199.4h0M764.3 134.1h0M762.1 124.8h0M745.9 187h0M760.8 163.4h0M745.6 132.3h0M756.2 190.3h0M763.6 174.6h0M746.2 139.3h0M746.8 162.8h0M748.9 179.3h0M761.9 231.4h0M757.1 171.9h0M746.8 150.2h0M750.3 128.1h0M763.4 185.3h0M753.1 192.7h0M764.9 201.5h0M759.7 221.2h0M757 128.7h0M751.5 180.5h0M769.7 196.3h0M762.2 116.7h0M753.2 211.7h0M750.5 135.4h0M756.7 129h0M768.7 201.9h0M758.4 192.4h0M763.9 145.8h0M756.6 153.8h0M754 164.6h0M758.9 149.1h0M755 137.9h0M760.7 187.4h0M753.2 145.2h0M766.3 137.9h0M769.4 187.5h0M746.9 179.1h0M763.9 208.3h0M758.7 117.1h0M754 205h0M793.7 180h0M800.1 140h0M789.6 176.4h0M797.4 143.2h0M803.6 218.3h0M789.1 118h0M795.8 182.2h0M805.4 209.5h0M801.2 201.3h0M797.2 141.7h0M805.2 200.7h0M804.7 158h0M802.1 216.8h0M801.7 124.4h0M797.9 182h0M794.8 183.3h0M788.3 172.7h0M803.1 219.6h0M790.4 118.9h0M800.9 143.3h0M790.1 217.6h0M798.5 154.7h0M802.6 216.6h0M805.8 167.4h0M787.3 220.5h0M795.2 195.5h0M790.6 218.8h0M793.4 196.8h0M791.8 205.3h0M797.1 213.5h0M797.2 131.5h0M802.8 184.7h0M794 141.6h0M798.4 174.1h0M799.3 153.1h0M796.8 116.1h0M794.5 178.7h0M789.3 124.6h0M792.9 197.6h0M804.1 179.5h0M796.6 124.1h0M793.2 154.9h0M802.3 176.9h0M804.6 155.7h0M802.4 147.8h0M805.5 124.8h0M806.3 126.9h0M801.3 225.7h0M793.1 202.9h0M795.2 136.2h0M794 172.2h0M804 149.6h0M794.1 142.3h0M792.1 220h0M798.6 180.5h0M789.5 221.2h0M803.8 173.2h0M800 185.2h0M788.2 207.4h0M791 179.2h0M805.9 139.2h0M803.8 118.9h0M788.4 228.4h0M804.8 133.4h0M796.9 156.5h0M789.7 219.8h0M779.7 203.4h0M777.8 168.7h0M774.7 144h0M785.4 201.2h0M781.7 183.4h0M777.4 138.3h0M782.4 159.4h0M775.5 192.6h0M783.3 224.1h0M782.2 231.3h0M777.9 146.1h0M773.4 217.9h0M787.4 152.7h0M784.3 228.7h0M779.2 165.2h0M776 163.1h0M778.6 158.2h0M787.6 143.2h0M785 171h0M786.9 200.6h0M784.4 229h0M775.2 147.7h0M776.9 195.1h0M771.6 156.4h0M778 268.5h0M781.6 270.6h0M800.4 235.1h0M772.6 288.3h0M754.6 286h0M791.6 270.8h0M752.2 237.1h0M774.4 254h0M762.7 257.6h0M787.5 257.8h0M769.5 241.2h0M758.8 275.1h0M799.2 247.1h0M768.3 283.9h0M780.4 283.6h0M791.4 277.5h0M775.6 250.1h0M791.5 264.2h0M778.7 265.1h0M772.5 232.7h0M796.6 245.9h0M756.6 257h0M761.3 276.1h0M799.1 255.6h0M785.5 253.8h0M783 261.9h0M777.8 242.8h0M793.2 269.1h0M796.1 274.1h0M787.3 287.7h0M773.2 291.8h0M790.1 267.1h0M766.8 286.2h0M799 254h0M754.1 244.8h0M772 269.6h0M762.1 238.9h0M774 274.9h0M765.2 256.8h0M790.3 242.6h0M760.4 288.3h0M792.1 251.3h0M752.7 291.9h0M757 259.4h0M777.7 245.4h0M776.5 251.3h0M769.1 290.7h0M790.5 261.1h0M759 279.8h0M764.6 244.4h0M785.3 282.1h0M754.7 280.5h0M790.7 266.5h0M795 284.1h0M756.1 255.2h0M788.1 284.1h0M758.9 276.7h0M758 234.2h0M764.2 246.6h0M763.8 268.1h0M797.9 244.5h0M798.6 266.9h0M799.3 240.6h0M791.1 275.2h0M763.8 241.6h0M779.5 289.7h0M754.8 286.7h0M762.9 291.1h0M780.9 251.2h0M780.6 267.8h0M789.8 290.9h0M753.7 265.9h0M780 247.5h0M785.5 240.9h0M788.8 335.6h0M770.6 331h0M765.8 335.6h0M782.4 339.3h0M752.4 302.3h0M749.9 323.1h0M751.3 319.3h0M778.7 332.4h0M754.1 301h0M761.7 313.1h0M775.4 324.9h0M777.4 306.1h0M774.6 312.1h0M785.9 322.6h0M779.9 326.9h0M760.8 330.6h0M785.4 328.5h0M773 345.5h0M756.6 303h0M765.7 331.9h0M791.6 314.5h0M752.8 328.3h0M783.3 310.9h0M761.7 342.3h0M772.6 329.2h0M772.8 300.8h0M777.7 334.6h0M766.3 301.6h0M755.8 307.3h0M772.6 308.2h0M761.3 315.2h0M773.7 301.6h0M772.8 328.8h0M761.7 309.8h0M760.6 304.2h0M763.9 309.1h0M766.9 316.3h0M765.3 306.1h0M784.4 323.9h0M782 318.3h0M756.4 310.3h0M764 332h0M771.6 343.4h0M779.6 316.6h0M761.9 296.8h0M755.5 325.3h0M779.1 344.3h0M777.1 327.4h0M789.9 318h0M788.9 308.3h0M753.6 335.7h0M774.5 332.4h0M734.7 298.3h0M742.5 299.9h0M752.4 347.3h0M766.7 429.7h0M769.5 394.4h0M779.5 355.2h0M774.7 357.8h0M780.8 364.8h0M783.8 393.7h0M777.1 434.3h0M760.9 437.1h0M775.3 366.2h0M751.2 375.8h0M769.6 429.5h0M779.2 354.3h0M759.1 415.8h0M786.3 436.4h0M779.2 366.2h0M759.5 412.8h0M766.4 365.1h0M776 367.2h0M774.9 416.9h0M781.5 378.1h0M772.7 407.5h0M764.5 365.4h0M767.7 371.4h0M779.3 436.5h0M760.1 363.2h0M757.7 360.3h0M762 428.7h0M763.9 405.9h0M770.6 414.6h0M775.7 424.7h0M770.4 411.2h0M785.1 361.9h0M780.3 359.3h0M770.2 347.4h0M759.5 385.7h0M753.8 359.3h0M765.2 389.4h0M769.4 436.2h0M756.3 418h0M776.9 407.5h0M757 416.9h0M763.9 406.2h0M768.9 408.1h0M769.3 427.7h0M778.9 376.3h0M761.6 418.4h0M770.4 419.8h0M779.6 401.9h0M773.2 364.4h0M773.5 371.5h0M777 379.3h0M773.6 415.5h0M758.2 402.4h0M767 411.6h0M779.9 371.8h0M751.4 410h0M790.4 356.1h0M774.3 352.7h0M762.3 388.7h0M752.2 420.4h0M776.6 418.4h0M762.9 429.6h0M768.5 419h0M759.9 409.6h0M781.7 421.3h0M779 351.9h0M762.9 414.6h0M774 408.5h0M770.7 387.9h0M764.6 424.9h0M753.6 360.2h0M769.4 398.9h0M767.9 438.9h0M767.5 378.3h0M769.2 436.9h0M775 435.1h0M752.8 346.5h0M759.3 393.1h0M751.3 427.2h0M762.2 378.7h0M766.5 349.4h0M761.6 360.5h0M763.7 420.3h0M769.9 389h0M781.9 379.7h0M775.7 420h0M766.8 359h0M770.6 378.9h0M766.9 373.8h0M755.8 390.1h0M775.6 383.8h0M764.5 395.9h0M768.1 381.9h0M780.9 367.5h0M785.8 410.4h0M756.6 407.3h0M771.5 405.1h0M774.5 380.5h0M765.5 383.3h0M781.2 423.9h0M768.3 422.7h0M775.2 389.9h0M787.3 373.3h0M780.3 361h0M776 399.3h0M759.8 404.2h0M769.5 350.1h0M765.2 421.8h0M771 404.1h0M762.5 363.6h0M789 368.1h0M826.6 345.8h0M782.8 444.2h0M777 505.5h0M767.5 518.9h0M750.2 534.6h0M763.2 536.4h0M760.8 474.5h0M779 537h0M779.6 454.9h0M764 447.9h0M758.2 526.7h0M765.5 514.8h0M764.2 466.3h0M762.4 495.3h0M774.4 538h0M762.5 503.8h0M764.5 483.1h0M757.3 513.8h0M761.6 490.1h0M769.6 506.5h0M777.1 462.3h0M770 445.4h0M772.7 456.8h0M784.1 456.4h0M765.9 444h0M764.7 450.4h0M765.3 511.2h0M759.7 526h0M756.7 532.9h0M748.9 524.2h0M765.6 519.9h0M760.6 463.7h0M762.5 538.3h0M777.6 497h0M773.5 471.7h0M762.2 475.1h0M762.1 479.2h0M751.5 543.4h0M762.3 526.1h0M767.5 485.9h0M761.1 481.2h0M769.8 477.7h0M754.1 478.9h0M757.3 537.4h0M762 459.7h0M766.5 464h0M764.6 487.7h0M774.9 525.2h0M767.6 469.6h0M771.2 497.1h0M764.5 533.2h0M778.4 455.4h0M756.3 492.8h0M769 476h0M766.8 528.5h0M757.8 500.6h0M764.4 524.2h0M756.5 514.8h0M763.4 497h0M761 482.9h0M748.5 521.3h0M760.8 538.8h0M770.8 493.8h0M757.9 542.2h0M748 535.7h0M763.2 522.9h0M763.4 454.5h0M758.8 507.7h0M768.6 463.6h0M752.1 463h0M774.4 518.9h0M754.5 490.5h0M753.5 533.9h0M772.4 464.9h0M761.9 509.1h0M765.9 529.7h0M754.2 479.5h0M769.4 537.9h0M763.2 514.6h0M772.3 500.1h0M770.3 511.5h0M755.9 543.9h0M771.4 528h0M762.1 464.1h0M778.8 450.8h0M760 531.9h0M749.8 542.2h0M748.3 479.3h0M770.3 506.7h0M775.7 511.6h0M759.7 475h0M754.6 494.4h0M776.5 532.2h0M773.7 507.9h0M753.2 462.1h0M769.1 442.7h0M769.7 535.8h0M757.1 455.2h0M756.1 510h0M757.2 533.1h0M752.6 519.4h0M783.5 442.6h0M767.9 484.1h0M748.1 487.1h0M759.1 524.6h0M764 497.5h0M765.8 518.5h0M777.3 505.6h0M786 462.5h0M778.5 521.9h0M762.1 516.7h0M754.5 478.9h0M774.8 532.2h0M770.8 464.4h0M764.9 476.3h0M769.5 543.6h0M756.1 531.9h0M771.9 532.5h0M771.4 520.2h0M759.8 481h0M752 445.4h0M761.2 446.6h0M750.2 540h0M762.7 529.9h0M777.3 521.3h0M774.6 505.4h0M779.1 442.3h0M773.8 513.7h0M762.8 474.5h0M758.6 481.2h0M756.8 537.1h0M755.3 488h0M758 539.5h0M774.1 534.3h0M756.1 460.4h0M755.7 451.3h0M783.8 513.5h0M771.2 611.9h0M764.2 640.5h0M755.3 628.2h0M750 568.6h0M756.6 547.9h0M764 635h0M769.1 642.6h0M759.5 643.8h0M771.4 590.5h0M772.2 577.1h0M751 625.7h0M759.5 605.4h0M755.2 609.4h0M771.2 561.9h0M748.4 559.6h0M770.8 558.2h0M747.8 574.7h0M752.3 626.5h0M769.2 556h0M752.9 576h0M765.6 646.6h0M747.2 592.3h0M766.8 587.3h0M756.7 651.5h0M766.4 587.7h0M747.6 620h0M768.3 634.2h0M748 620.5h0M749.4 633.9h0M752.2 562.8h0M757.3 646h0M769.1 606.6h0M754.1 578.9h0M767.7 626.6h0M764.8 568.1h0M769.4 642.8h0M765.1 581h0M769.2 566.9h0M773.1 631.1h0M755.2 638.1h0M746.2 577.5h0M764.5 598.7h0M757.7 547.3h0M759.8 616.1h0M747 629.8h0M764.2 563.1h0M758.8 605.9h0M755.6 546.1h0M755.6 561.6h0M760.7 637h0M755.7 651.6h0M759 592.4h0M761.2 648.1h0M773.4 592.6h0M766.1 637.5h0M760.9 632.8h0M760.4 615.6h0M759.5 634.8h0M752.8 583.7h0M760.5 615.2h0M772.5 613.4h0M750.8 607.5h0M768.2 583.7h0M774.1 556.8h0M754.2 583.1h0M757.6 646.6h0M768.7 560.2h0M753.3 571.3h0M757.9 650.4h0M758.8 577.2h0M762.3 631h0M747.2 569.3h0M753.9 619h0M756.3 611.8h0M775.8 574h0M766.6 609.3h0M762.2 602.3h0M763.8 623.6h0M752.2 641.3h0M749.8 606.3h0M756.2 553.4h0M751.3 649.4h0M763.7 572.9h0M769.7 568.2h0M771.8 552.4h0M758.1 575.5h0M773 637.5h0M755.1 546.6h0M763.8 559.5h0M751.6 647.5h0M767.1 644.1h0M764.4 600.3h0M773.5 612.9h0M761.8 581.8h0M747.7 547.9h0M756.8 628.7h0M762.3 651.9h0M765.9 556.4h0M764.2 594.9h0M771.2 571.6h0M759.4 636h0M754.9 648.8h0M768.3 646.6h0M762 611.9h0M765.9 546.2h0M749.5 558.3h0M757.9 578.5h0M771.6 559.8h0M769.3 609.5h0M774.5 560.6h0M763.4 624.7h0M754.7 579.8h0M768.3 597.5h0M756.4 646.6h0M761.1 636.8h0M752.1 577.3h0M754.6 595.1h0M758.7 587.6h0M760.9 567.3h0M775 576.5h0M768 573.7h0M761.3 641h0M766 617.4h0M764 574.3h0M768.9 608.2h0M774.2 639h0M760.6 601.5h0M760.2 626.6h0M755.4 616.8h0M748.6 617.1h0M750.5 576.1h0M756.4 633.5h0M776.1 582h0M756.3 617.3h0M759 605.8h0M753.4 571.5h0M759.4 617.7h0M755.7 565.3h0M755.2 596h0M756.2 610.8h0M771 583.3h0M765 584.5h0M752.7 605.1h0M766.2 637.8h0M752.9 636.1h0M763.1 624.7h0M769.7 553.6h0M755.9 569.3h0M754.8 635.7h0M758.9 575.7h0M759.2 672.1h0M762.9 681h0M750.9 689.7h0M758.1 668.3h0M763.6 680.8h0M759.1 667.2h0M755.1 680.3h0M751.5 681.9h0M764.1 679.8h0M767 654.8h0M764.8 673.8h0M765.1 659.8h0M763 671.1h0M749 686.4h0M760.7 660.7h0M766 689.3h0M757 656.4h0M750.7 679.4h0M764.5 658.6h0M759.9 688.2h0M754.1 653.4h0M760.8 700.9h0M761.4 682.9h0M759.7 663.6h0M759 680.5h0M767.7 693h0M765.4 652.8h0M752.1 699.8h0M758.1 680.4h0M749.9 701.7h0M763.3 677.5h0M757.1 652.1h0M760.7 689.6h0M761.4 665.4h0M757.8 672.1h0M757.6 684.9h0M756.7 677.3h0M749.9 676.8h0M759.1 677.9h0M750.8 676.6h0M753.5 701.8h0M768.2 691.2h0M740.3 657.7h0M742.5 675h0M756.6 718.5h0M755.4 733.8h0M750.2 715.5h0M755.9 777.5h0M755.7 791.6h0M754.5 733.7h0M754.9 717h0M749.4 727h0M754.4 733.1h0M753 735h0M755 710.3h0M753.9 772.2h0M754.6 727.4h0M750 770.2h0M757.2 735.3h0M753.5 732.6h0M752 704.1h0M755.5 752.3h0M754.2 782.4h0M750.6 776.6h0M754.8 742.7h0M756.2 705.7h0M753 785.9h0M754.6 737.4h0M752.4 722.5h0M752.1 775.9h0M755.5 785.3h0M756.8 724.6h0M755.9 735.2h0M752.8 785.2h0M750.7 710.3h0M755.3 735.1h0M751 731.7h0M750 784.4h0M757 715h0M752.2 735.7h0M753.5 746.9h0M755.4 784.1h0M751.9 768.8h0M755 767.2h0M749.9 756.5h0M752.1 722.7h0M749.8 724.3h0M757.3 723.8h0M753.3 775.2h0M749.9 704.9h0M750.5 725.6h0M755.8 718.6h0M757.1 708.8h0M757.3 706h0M756.6 735.3h0M753.2 764.5h0" stroke="#00ffff" stroke-width="7.2" stroke-linecap="round" fill="none"/>
<polyline points="772.4,50.4 771.5,155.3 773.1,260.1 773.5,365 767.7,469.8 762.4,574.7 759.6,679.5 753.4,784.4" fill="none" stroke="#0000ff" stroke-width="2.7" stroke-linejoin="round"/>
<circle cx="772.4" cy="50.4" r="6.1" fill="#0000ff"/>
<circle cx="771.5" cy="155.3" r="6.1" fill="#0000ff"/>
<circle cx="773.1" cy="260.1" r="6.1" fill="#0000ff"/>
<circle cx="773.5" cy="365" r="6.1" fill="#0000ff"/>
<circle cx="767.7" cy="469.8" r="6.1" fill="#0000ff"/>
<circle cx="762.4" cy="574.7" r="6.1" fill="#0000ff"/>
<circle cx="759.6" cy="679.5" r="6.1" fill="#0000ff"/>
<circle cx="753.4" cy="784.4" r="6.1" fill="#0000ff"/>
<polyline points="714.6,18.9 714.6,60.9 717.4,102.8 723.3,144.8 729.4,186.7 738.4,228.6 750.6,270.6 784,333.5 847.2,438.3 848.5,543.2 847.3,648" fill="none" stroke="#ff0000" stroke-width="8.7" stroke-linejoin="round"/>
<circle cx="714.6" cy="18.9" r="6.2" fill="#ff0000"/>
<circle cx="714.6" cy="60.9" r="6.2" fill="#ff0000"/>
<circle cx="717.4" cy="102.8" r="6.2" fill="#ff0000"/>
<circle cx="723.3" cy="144.8" r="6.2" fill="#ff0000"/>
<circle cx="729.4" cy="186.7" r="6.2" fill="#ff0000"/>
<circle cx="738.4" cy="228.6" r="6.2" fill="#ff0000"/>
<circle cx="750.6" cy="270.6" r="6.2" fill="#ff0000"/>
<circle cx="784" cy="333.5" r="6.2" fill="#ff0000"/>
<circle cx="847.2" cy="438.3" r="6.2" fill="#ff0000"/>
<circle cx="848.5" cy="543.2" r="6.2" fill="#ff0000"/>
<circle cx="847.3" cy="648" r="6.2" fill="#ff0000"/>
<polyline points="700.5,18.9 700.2,60.9 701.4,102.8 705.5,144.8 713.4,186.7 722.6,228.6 735.5,270.6 779.2,333.5 834.4,438.3 823.6,543.2 812.5,648" fill="none" stroke="#9c6200" stroke-width="3.0" stroke-linejoin="round"/>
<polyline points="700.5,18.9 700.2,60.9 701.4,102.8 705.5,144.8 713.4,186.7 722.6,228.6 735.5,270.6 779.2,333.5 834.4,438.3 823.6,543.2 812.5,648" fill="none" stroke="#ffa500" stroke-width="2.0" stroke-linejoin="round"/>
<circle cx="700.5" cy="18.9" r="6.2" fill="#ffa500" stroke="#a06a00" stroke-width="0.7"/>
<circle cx="700.2" cy="60.9" r="6.2" fill="#ffa500" stroke="#a06a00" stroke-width="0.7"/>
<circle cx="701.4" cy="102.8" r="6.2" fill="#ffa500" stroke="#a06a00" stroke-width="0.7"/>
<circle cx="705.5" cy="144.8" r="6.2" fill="#ffa500" stroke="#a06a00" stroke-width="0.7"/>
<circle cx="713.4" cy="186.7" r="6.2" fill="#ffa500" stroke="#a06a00" stroke-width="0.7"/>
<circle cx="722.6" cy="228.6" r="6.2" fill="#ffa500" stroke="#a06a00" stroke-width="0.7"/>
<circle cx="735.5" cy="270.6" r="6.2" fill="#ffa500" stroke="#a06a00" stroke-width="0.7"/>
<circle cx="779.2" cy="333.5" r="6.2" fill="#ffa500" stroke="#a06a00" stroke-width="0.7"/>
<circle cx="834.4" cy="438.3" r="6.2" fill="#ffa500" stroke="#a06a00" stroke-width="0.7"/>
<circle cx="823.6" cy="543.2" r="6.2" fill="#ffa500" stroke="#a06a00" stroke-width="0.7"/>
<circle cx="812.5" cy="648" r="6.2" fill="#ffa500" stroke="#a06a00" stroke-width="0.7"/>
<polyline points="744.4,18.9 745.4,60.9 744.2,102.8 744.4,144.8 749.6,186.7 763.6,228.6 781.5,270.6 786.9,333.5 779.5,438.3 768.6,543.2 764.5,648" fill="none" stroke="#008000" stroke-width="2.7" stroke-linejoin="round"/>
<circle cx="744.4" cy="18.9" r="6.1" fill="#008000"/>
<circle cx="745.4" cy="60.9" r="6.1" fill="#008000"/>
<circle cx="744.2" cy="102.8" r="6.1" fill="#008000"/>
<circle cx="744.4" cy="144.8" r="6.1" fill="#008000"/>
<circle cx="749.6" cy="186.7" r="6.1" fill="#008000"/>
<circle cx="763.6" cy="228.6" r="6.1" fill="#008000"/>
<circle cx="781.5" cy="270.6" r="6.1" fill="#008000"/>
<circle cx="786.9" cy="333.5" r="6.1" fill="#008000"/>
<circle cx="779.5" cy="438.3" r="6.1" fill="#008000"/>
<circle cx="768.6" cy="543.2" r="6.1" fill="#008000"/>
<circle cx="764.5" cy="648" r="6.1" fill="#008000"/>
<polyline points="824.6,29.2 824.6,51.2 817.5,74.5 814.6,99.1 813.5,125.5 811.6,154 810.5,185.2 808.5,219.6 806.5,258 801.3,301.4 789.4,350.5 771.5,406.9 763.4,471.9 760.5,547.4 752.5,636.3 748.4,740.9" fill="none" stroke="#ff00ff" stroke-width="2.7" stroke-linejoin="round"/>
<circle cx="824.6" cy="29.2" r="6.1" fill="#ff00ff"/>
<circle cx="824.6" cy="51.2" r="6.1" fill="#ff00ff"/>
<circle cx="817.5" cy="74.5" r="6.1" fill="#ff00ff"/>
<circle cx="814.6" cy="99.1" r="6.1" fill="#ff00ff"/>
<circle cx="813.5" cy="125.5" r="6.1" fill="#ff00ff"/>
<circle cx="811.6" cy="154" r="6.1" fill="#ff00ff"/>
<circle cx="810.5" cy="185.2" r="6.1" fill="#ff00ff"/>
<circle cx="808.5" cy="219.6" r="6.1" fill="#ff00ff"/>
<circle cx="806.5" cy="258" r="6.1" fill="#ff00ff"/>
<circle cx="801.3" cy="301.4" r="6.1" fill="#ff00ff"/>
<circle cx="789.4" cy="350.5" r="6.1" fill="#ff00ff"/>
<circle cx="771.5" cy="406.9" r="6.1" fill="#ff00ff"/>
<circle cx="763.4" cy="471.9" r="6.1" fill="#ff00ff"/>
<circle cx="760.5" cy="547.4" r="6.1" fill="#ff00ff"/>
<circle cx="752.5" cy="636.3" r="6.1" fill="#ff00ff"/>
<circle cx="748.4" cy="740.9" r="6.1" fill="#ff00ff"/>
</g>
<rect x="572.6" y="19.3" width="404.0" height="795.1" fill="none" stroke="#000" stroke-width="1.4"/>
<path d="M572.6 19.3h-6.2M572.6 123.5h-6.2M572.6 228.5h-6.2M572.6 333.5h-6.2M572.6 438.5h-6.2M572.6 543.5h-6.2M572.6 648.5h-6.2M572.6 752.5h-6.2M623.5 814.4v6.2M725.5 814.4v6.2M828.5 814.4v6.2M930.5 814.4v6.2" stroke="#000" stroke-width="1.4" fill="none"/>
<path d="M1067.7 123.5H1471.8M1067.7 228.5H1471.8M1067.7 333.5H1471.8M1067.7 438.5H1471.8M1067.7 543.5H1471.8M1067.7 648.5H1471.8M1067.7 752.5H1471.8M1117.5 19.3V814.4M1177.5 19.3V814.4M1237.5 19.3V814.4M1297.5 19.3V814.4M1358.5 19.3V814.4M1418.5 19.3V814.4" stroke="#a6a6a6" stroke-width="0.87" stroke-dasharray="3.2 1.4" fill="none"/>
<g clip-path="url(#cp2)">
<path d="M1173.5 20.3h0M1187.3 22.8h0M1193.7 21.3h0M1371.7 786.6h0M1368.2 802.2h0M1374.7 801.2h0M1372.3 813.8h0M1192 88.5h0M1183.5 114h0M1184.8 85.1h0M1193.1 107.3h0M1192.7 104.8h0M1190.1 59.4h0M1192.8 83.2h0M1189.5 98.1h0M1195 100.8h0M1184.1 57.4h0M1189.6 57.7h0M1197.4 96.8h0M1183.5 101.2h0M1191.3 73.7h0M1189.3 96.1h0M1197.5 105.3h0M1200.4 97.4h0M1191.8 113.9h0M1193.2 60.9h0M1198.1 79.1h0M1186.9 58h0M1204.4 96h0M1198.1 99.6h0M1184.9 98h0M1192.4 112.7h0M1193.8 112.4h0M1201.1 95.2h0M1184.2 65.9h0M1196.1 96.1h0M1193.3 65.5h0M1190.6 83.3h0M1187.7 98.3h0M1186.2 60.2h0M1185.1 60.4h0M1196 64.9h0M1194 66.8h0M1196.8 75.2h0M1203.3 82.4h0M1193 74.5h0M1196 92.8h0M1191.4 77.9h0M1191.2 85.4h0M1198.9 105.4h0M1203.2 114.5h0M1195.9 65.5h0M1191.5 93.6h0M1189.9 94.1h0M1195.9 104.2h0M1185.7 96.8h0M1194.2 77.2h0M1190.6 63.7h0M1187.2 68.9h0M1191.5 82.3h0M1186.1 66.4h0M1188.9 78h0M1183.8 62.4h0M1191.3 96.5h0M1194.7 69.9h0M1194.1 75.1h0M1195.9 93.6h0M1191.5 63.8h0M1198.6 69.5h0M1204.4 96.9h0M1195.2 84.1h0M1199.8 107.6h0M1192.4 63.2h0M1186.3 111.9h0M1194 62.1h0M1190 63.9h0M1184.6 79h0M1196.1 84.6h0M1193.8 107.3h0M1191.6 100.5h0M1190.7 101.7h0M1188 111h0M1201.8 107.3h0M1190.9 60.1h0M1186.7 67.5h0M1196.8 112.6h0M1183.4 98.6h0M1192.1 78.1h0M1187.6 115.8h0M1199.2 115.8h0M1196.2 70.8h0M1191.3 83.5h0M1186 97.9h0M1196.7 97.1h0M1192.1 83.9h0M1196 95.4h0M1191.1 58.8h0M1192.2 58.4h0M1187.4 92.2h0M1166.6 70.3h0M1164.1 115.6h0M1180.5 75.1h0M1171.6 104.2h0M1164.5 108.6h0M1157.1 57.1h0M1162.7 68.7h0M1169.8 78.6h0M1183.8 113.5h0M1175.6 94.2h0M1179.1 105.5h0M1172.2 102.9h0M1171.9 74h0M1168.1 108.1h0M1170.8 92.6h0M1170.7 103.6h0M1170.3 111.7h0M1174 112.7h0M1181 76.1h0M1179.6 67h0M1156.4 89.2h0M1163 70.2h0M1158.6 64.2h0M1166.6 67.7h0M1177.4 106.8h0M1176.2 102.6h0M1178.1 113.4h0M1160.6 70h0M1162.4 59.2h0M1163.2 107.7h0M1215.9 169.4h0M1203 123.2h0M1197.7 127.9h0M1192.7 170.6h0M1199.6 143.8h0M1196.4 123.7h0M1189.8 124.4h0M1194.3 188.4h0M1210.5 139.8h0M1203.3 223.2h0M1210.1 209.8h0M1197.9 222.1h0M1209.3 151.2h0M1215.3 206h0M1195.1 188.2h0M1198.8 146.8h0M1204.6 198.7h0M1205.9 211.4h0M1217.4 191.3h0M1200.8 146.7h0M1200.3 130.8h0M1199 212h0M1202.7 202.3h0M1210.4 214.5h0M1217.1 195.9h0M1207.6 214.6h0M1197.8 178.8h0M1195.9 127.4h0M1217.3 212.9h0M1195.5 178.2h0M1207 221.1h0M1200.1 128.5h0M1195.5 120.3h0M1199.4 182.3h0M1211.9 198.6h0M1210.5 211.8h0M1199.6 135h0M1195.7 170.8h0M1205.5 155h0M1190.6 123.8h0M1213.1 153.9h0M1200.7 189.9h0M1203.8 189.1h0M1207.9 185.3h0M1200.3 155h0M1207.1 176.6h0M1206.8 206.4h0M1205 230.9h0M1205.3 183.9h0M1199.5 162.4h0M1195.2 167.5h0M1210.1 175.5h0M1200.4 119.6h0M1198.2 178h0M1191.6 141.6h0M1204.5 209h0M1204.5 202.8h0M1200 128.3h0M1214.3 214.8h0M1221 197.2h0M1216.7 180h0M1207.5 190.2h0M1202.9 206.5h0M1200.3 152.6h0M1214.3 200.7h0M1206.1 198.9h0M1193.2 120.6h0M1195.8 130.9h0M1206.2 225.3h0M1205.2 145.7h0M1196.2 166.3h0M1210.6 156.2h0M1208.1 222h0M1193.6 132.7h0M1214.3 227.5h0M1194.8 120.8h0M1217.8 191.3h0M1196.3 132.6h0M1197 116.6h0M1198 208.3h0M1196.3 214.8h0M1208.9 162.7h0M1203.6 159.2h0M1197.7 168.3h0M1223.2 209.5h0M1217.3 196.9h0M1209.2 164.3h0M1199.8 155h0M1205.7 147.3h0M1198.7 185.2h0M1189.2 137.4h0M1202 137.5h0M1193 127.7h0M1210.6 200.7h0M1211.7 195.2h0M1197 122.5h0M1191.2 151h0M1209.5 206.7h0M1186.4 116.6h0M1215.6 189.9h0M1212 203.3h0M1204.8 194.6h0M1208.1 169.4h0M1199.4 206.8h0M1214.6 226.2h0M1207.2 163.9h0M1207.4 134.6h0M1193 119.8h0M1192.5 160.1h0M1199.2 146.3h0M1204.3 205.9h0M1197.3 144.2h0M1195.4 179.6h0M1205.3 141h0M1194.9 189.8h0M1206 158.3h0M1194 132.4h0M1193.7 159.2h0M1195.2 213.2h0M1202.9 165.2h0M1216.5 216.7h0M1197.5 161.7h0M1204.4 167h0M1201.4 210.5h0M1191.7 130.9h0M1205.6 172.8h0M1198.2 204.4h0M1211.1 202.1h0M1219.1 197.7h0M1196.6 151.4h0M1193.2 121.6h0M1223 219.5h0M1205.9 128.6h0M1189.6 118.1h0M1202.3 196.9h0M1214.3 217h0M1199.3 174.1h0M1207.6 144.2h0M1203.8 215.9h0M1199.5 152.4h0M1202.9 198h0M1190.5 149.8h0M1201.1 187h0M1207.7 210.5h0M1212.6 231.8h0M1204.6 224.5h0M1199 156h0M1197.4 128.3h0M1212.2 197h0M1214 217.2h0M1205.4 162.1h0M1212.2 197.5h0M1203.4 194.9h0M1193.1 169h0M1204.3 198.9h0M1193.2 231h0M1177.1 126.1h0M1176.8 204.4h0M1192.3 200.4h0M1183.2 194.8h0M1175.9 171.2h0M1191.3 219.3h0M1189.3 146.4h0M1180.4 201.2h0M1176 146.9h0M1173.2 171.7h0M1175.5 149h0M1177 129.3h0M1175.6 216.1h0M1190.7 201.5h0M1191 157.9h0M1187.7 192.6h0M1178.2 220.4h0M1193.9 216.4h0M1171.2 126.9h0M1179.7 207.8h0M1183.9 124.3h0M1182.8 200.3h0M1194.3 195.5h0M1174.3 196.9h0M1182.4 231.5h0M1193.8 183h0M1169.7 169.9h0M1181.7 230.7h0M1171 152.4h0M1183.5 120.1h0M1178.2 127.7h0M1178.7 121h0M1172.5 137.8h0M1185.7 183.1h0M1165.7 123.6h0M1187.5 221.1h0M1176.7 167.5h0M1171.7 132.6h0M1175.6 212.6h0M1172.7 168.7h0M1178.3 221.8h0M1244.5 176.3h0M1225.1 173.3h0M1238.9 209.8h0M1223.9 165.2h0M1232.3 176.2h0M1197 242.1h0M1188.7 255.1h0M1193.7 249.5h0M1214.2 277.6h0M1214.3 258.4h0M1213.9 241.4h0M1221.5 259.6h0M1215.8 257.9h0M1204.8 283.7h0M1226.6 266.5h0M1216.9 257.1h0M1190.4 259.7h0M1214.3 260.2h0M1186.4 242h0M1203.1 239.8h0M1194.9 281.9h0M1214.4 238.1h0M1220 260.9h0M1212.1 277h0M1188.6 287.8h0M1214.3 258.7h0M1226.9 254.3h0M1200.9 237h0M1215.1 240.5h0M1221.8 266.9h0M1198.5 257h0M1214.9 233.4h0M1206.9 270.6h0M1218.2 253.5h0M1215.6 264h0M1187.2 245.1h0M1213.2 238.7h0M1231.9 277.9h0M1187.4 258.1h0M1213.8 284.5h0M1212.8 248.3h0M1207.3 266.7h0M1201.5 288.7h0M1213.9 257.8h0M1222.3 283.5h0M1206.1 251h0M1188.7 253.5h0M1201 235.4h0M1196.9 246.6h0M1225.4 259.7h0M1231.3 267.3h0M1218 259.2h0M1221.4 262.4h0M1225.8 271.3h0M1224.6 256h0M1201.6 255.5h0M1210.5 252h0M1212.3 249.8h0M1203.2 253.2h0M1198.1 282.3h0M1231.5 282.1h0M1213 270.2h0M1204 275.7h0M1212.6 262.7h0M1197.8 270.9h0M1220.6 285h0M1208 236.3h0M1282.1 282h0M1252.7 278.8h0M1273.4 267h0M1273.3 276.9h0M1235.2 236.2h0M1283.7 266.9h0M1289.8 233.7h0M1266.5 276.6h0M1294.7 272.8h0M1243.9 285h0M1289.7 250h0M1275.9 255.6h0M1191.2 313.4h0M1192.2 333.1h0M1205.1 341.1h0M1192.4 311.5h0M1223.5 337h0M1239.4 300h0M1198.6 297.7h0M1247.6 343.7h0M1216 313.6h0M1197.1 321.5h0M1221.6 324.8h0M1205.4 336.8h0M1210 324.5h0M1197.5 294.3h0M1241.9 304.3h0M1207.8 307.6h0M1195.5 304.3h0M1228 342.6h0M1229.4 326.8h0M1195.1 336.9h0M1221.2 314.8h0M1202.4 309.3h0M1210 342h0M1193.9 307.3h0M1215.4 344.7h0M1198.6 331.4h0M1194.9 294.4h0M1227.6 305.2h0M1194.1 333.2h0M1242.5 345.7h0M1243.2 316.7h0M1195.5 296.1h0M1233.1 311.3h0M1196.8 300.9h0M1240.8 325.8h0M1198.8 339.9h0M1265.9 300.8h0M1309.1 313h0M1259 316.7h0M1289.5 319.4h0M1299.1 340.3h0M1256.6 314.8h0M1258.3 308.4h0M1303.2 304.8h0M1281.5 341.6h0M1260.5 296.7h0M1302.6 298.9h0M1284.9 345h0M1311.7 328.6h0M1271.7 338.7h0M1249.1 324.2h0M1277.1 298.6h0M1277.9 314.4h0M1257.6 320.6h0M1269.9 332.4h0M1291.1 317.9h0M1271.4 295.9h0M1287 314.1h0M1300.8 316.9h0M1272.6 294.3h0M1302.4 315.2h0M1311.4 316.1h0M1293.8 342.9h0M1309.6 333h0M1254.3 335.5h0M1307.1 337.5h0M1312.3 339.6h0M1289.5 307.8h0M1265.2 334.7h0M1311.1 337h0M1248 305.5h0M1291.1 323.7h0M1274.9 344.4h0M1306.4 343.7h0M1284.1 313.1h0M1309.6 331h0M1270.5 303.8h0M1292.2 311.9h0M1243.2 430.4h0M1240.2 380.5h0M1258.6 351.2h0M1284.9 377.2h0M1247.5 410.9h0M1253.2 362.3h0M1246.8 385.5h0M1232.6 425.1h0M1263.2 387.7h0M1289 403.6h0M1230.4 428.4h0M1245.5 425.4h0M1266.6 425.2h0M1242.7 429.3h0M1222.9 401.9h0M1248.1 422.2h0M1211.6 381.9h0M1250.8 420.1h0M1250 389.6h0M1256 391.6h0M1274.4 413h0M1241.9 371.7h0M1248.9 360.5h0M1217.2 369.9h0M1272.9 430.3h0M1286.5 436.3h0M1278.8 405.9h0M1257.9 392.9h0M1243.1 348.6h0M1256.9 372.9h0M1202.8 359.9h0M1250 370.9h0M1280.5 437.4h0M1241.8 361.3h0M1272.7 424.8h0M1211.3 349.4h0M1258.2 427h0M1213.1 385.5h0M1287.8 404h0M1263.3 369.1h0M1286.2 399.8h0M1195.8 346.2h0M1223 412.1h0M1270.8 398.1h0M1277 415.3h0M1272.9 426h0M1267 359.8h0M1281.5 429.6h0M1273.4 401.9h0M1261.1 348.8h0M1197.7 347h0M1214.1 347h0M1267.3 430.1h0M1262.6 427.3h0M1233.9 406.3h0M1272.7 393.3h0M1290.9 426.1h0M1218.8 364.3h0M1220.2 353.5h0M1259.7 386.8h0M1229 404.5h0M1254.9 384.5h0M1299.5 404.6h0M1327.7 423.6h0M1308.2 394.3h0M1300.2 371.7h0M1302.2 351.7h0M1322.4 417.1h0M1326.6 419h0M1285.3 363.5h0M1312.9 412.2h0M1299.6 394h0M1324.3 411h0M1316.7 355.9h0M1300.1 414.6h0M1316.6 426.9h0M1310.4 419h0M1324.1 417.5h0M1323.5 424h0M1321 405.8h0M1311.3 381h0M1290.3 354.4h0M1301.6 400.7h0M1315.4 424.4h0M1304 423.8h0M1311.6 411.7h0M1310.1 354.2h0M1296.4 407.5h0M1295.8 364.3h0M1321.3 439.3h0M1313.4 396.4h0M1281.2 348.7h0M1289.5 388.5h0M1310.6 398.3h0M1317.5 364.9h0M1318.5 373.7h0M1294.3 385.5h0M1317.2 391.5h0M1296.9 364.4h0M1319.4 421h0M1307.7 399.8h0M1302.4 423.8h0M1295 428.7h0M1302.6 355.9h0M1321.4 418.4h0M1292.4 405.7h0M1306.6 406.8h0M1301.1 414.7h0M1313.2 368.2h0M1302.3 355.4h0M1319.3 425.5h0M1317.5 422.1h0M1298 417.5h0M1308.5 371.3h0M1327.6 428.1h0M1293.2 420.5h0M1324 409.5h0M1304.4 362.1h0M1298.6 422.9h0M1315.5 433.8h0M1317.9 427h0M1299.5 397.1h0M1308.1 424.1h0M1307 353.1h0M1306.2 388.5h0M1320.8 388.8h0M1293.9 350.7h0M1314.3 367.8h0M1313.5 391.6h0M1303.8 396.1h0M1286.9 378.7h0M1308.9 356.7h0M1310.8 379h0M1323.2 418.4h0M1294.4 399.9h0M1317.9 355.1h0M1305.2 385.6h0M1311.5 398.1h0M1315 432.3h0M1307.7 346.3h0M1324.4 420.6h0M1323.5 395.8h0M1304.5 409.3h0M1302 376.4h0M1319.7 376.1h0M1316.8 402.7h0M1318.8 439.5h0M1299.1 365.4h0M1299.3 352.2h0M1294.8 395.1h0M1297.8 427.3h0M1308.1 363.9h0M1300.2 363.3h0M1319 364.5h0M1317.3 350.1h0M1297.7 412.6h0M1318.2 401h0M1314.8 541.5h0M1318.5 471.1h0M1299.6 494.5h0M1346.5 534.1h0M1328 472.8h0M1307.9 452.3h0M1329.2 526.6h0M1334.2 455.9h0M1335.4 499.8h0M1324.8 473.7h0M1334.4 528.4h0M1330.4 492.7h0M1314.8 523.9h0M1302.7 533h0M1337.6 467.7h0M1341.4 508.8h0M1316.5 458.7h0M1337.4 539.6h0M1332.9 523.2h0M1335.5 534.9h0M1305.2 460.6h0M1336.1 545.1h0M1312.2 457h0M1336.5 535.3h0M1297.2 544h0M1327.8 464.3h0M1318 512.8h0M1323 482.6h0M1294.8 460.5h0M1301.7 496.2h0M1333.1 531.4h0M1327.1 467.6h0M1336.7 531h0M1312 449.7h0M1343.5 540.6h0M1330.3 444.1h0M1336.2 542.4h0M1323.5 509.8h0M1299 443.3h0M1329.3 452.3h0M1299.9 488.6h0M1341.3 475.6h0M1329.5 492.3h0M1298.4 497.7h0M1307.9 511.8h0M1328.1 442.1h0M1311.7 537.4h0M1326.3 512.6h0M1336.2 541.3h0M1318.7 537.6h0M1304.3 513.8h0M1306 526.3h0M1334.4 510.7h0M1341.4 523.1h0M1315.4 522.5h0M1316.6 485.9h0M1346.4 520.7h0M1308.7 446.4h0M1303.5 520.5h0M1328.3 448.3h0M1314.7 444.9h0M1323.8 462.7h0M1320.9 441h0M1308 528.6h0M1307.5 475.9h0M1341.6 484.6h0M1308.1 513.1h0M1307.8 540.8h0M1296.1 463.8h0M1310.3 455.1h0M1319.8 445.9h0M1323.9 454.9h0M1323.8 543h0M1339.9 487.8h0M1328.2 515.1h0M1340.9 496.9h0M1308.6 478.7h0M1337.6 500.4h0M1331.5 501.1h0M1327.2 480.2h0M1315.1 507.6h0M1311.2 480.1h0M1311.2 441.6h0M1309.9 540.2h0M1315.8 531.1h0M1320 505.2h0M1306.9 459.1h0M1301.1 502h0M1326.6 495.5h0M1302.4 541.5h0M1327.3 535.2h0M1299.3 528.5h0M1321.5 513.5h0M1306.5 510.5h0M1344.5 532.3h0M1299.4 448.7h0M1333.2 472.8h0M1322.3 510h0M1344.1 501.5h0M1335.2 522.8h0M1305.5 508.6h0M1304.9 464.3h0M1299.7 468.2h0M1303.1 517.7h0M1331.6 516.6h0M1338.3 515h0M1334.9 450h0M1320.9 508.1h0M1311.5 509.1h0M1298.6 530.6h0M1328 454.2h0M1342.3 503.7h0M1305.9 474.5h0M1303.2 499h0M1306.4 524.9h0M1334.3 505.1h0M1346.9 522.2h0M1322.2 527.3h0M1308.4 474.2h0M1314.3 531.8h0M1345.5 508.4h0M1310.6 458.6h0M1335.9 511.2h0M1324.9 470.7h0M1300.8 486.3h0M1339.6 497.3h0M1323.4 515.9h0M1331.2 483.4h0M1338.2 537.7h0M1307.7 466.4h0M1294.2 442.2h0M1298.3 494.8h0M1331.7 454.4h0M1313.7 466.8h0M1314.7 510.4h0M1328.9 449.1h0M1298.6 507.8h0M1336.7 512.9h0M1335.3 471.2h0M1312.3 456.3h0M1321.8 536.7h0M1322.9 445h0M1313 533h0M1340.2 510.3h0M1330.1 443h0M1315.1 457.2h0M1336 534.7h0M1335.7 509h0M1304.4 520.5h0M1345 524.3h0M1275.4 521.6h0M1236.6 486.1h0M1267.8 477.9h0M1249.6 496.7h0M1273.7 456.5h0M1234.4 512.3h0M1252.2 501.6h0M1209.9 445.1h0M1214.2 478.7h0M1251.2 522.4h0M1264.3 527h0M1264 517.2h0M1321.3 635.6h0M1317.5 649.2h0M1317 631.6h0M1320.7 588.9h0M1309 622.2h0M1328.7 604h0M1333.3 618.9h0M1324.4 569.7h0M1320.6 646.3h0M1324.3 618.3h0M1319.4 581.6h0M1313.4 612.5h0M1318.6 619.9h0M1322 590.4h0M1326.8 575.7h0M1325.7 587.7h0M1325.9 562.2h0M1306.4 630.6h0M1312.6 558.6h0M1304.5 590.4h0M1329.9 595.3h0M1330.9 641h0M1324.5 592.9h0M1302.5 643.4h0M1329.3 646.9h0M1314.2 573.9h0M1318.1 559.2h0M1316.4 643.4h0M1306.9 562.2h0M1303.5 587.5h0M1313.9 631.9h0M1323.4 549.1h0M1310.5 574.3h0M1314.4 637.8h0M1311.8 570.4h0M1325.4 642.7h0M1329.6 571.1h0M1315.3 556h0M1311.4 650.4h0M1327.7 553.6h0M1331.5 612.6h0M1322.6 549.6h0M1323.5 624.4h0M1299.5 559.8h0M1317.3 635.6h0M1306.4 641.2h0M1317.8 648.3h0M1319.6 615.3h0M1313.8 621.9h0M1310.1 558.7h0M1313.2 587.3h0M1316.8 628.2h0M1298.7 552.6h0M1311.2 651.6h0M1307.1 572.6h0M1305.6 551.3h0M1326.4 598.9h0M1307.3 649.2h0M1303.3 562h0M1303.5 576.2h0M1323.2 622.4h0M1321.9 623.3h0M1318.2 549.8h0M1329 624.7h0M1332.2 639.6h0M1326.9 621.8h0M1331.5 568.8h0M1311.1 557.7h0M1314.1 561.8h0M1311.1 603.7h0M1326.5 579.5h0M1316.2 564.6h0M1325.7 594.9h0M1315.2 634.2h0M1300.5 636.4h0M1325.4 558.8h0M1332.7 586h0M1306.4 575.8h0M1323.4 592.7h0M1318.4 604.8h0M1303.7 626.8h0M1302.7 547.7h0M1330.3 589.3h0M1323.1 611.6h0M1327.6 559.4h0M1308.2 649.3h0M1315.7 558.6h0M1326.1 561h0M1329.4 640.7h0M1328 599.8h0M1317.5 573.2h0M1308.4 568.3h0M1309.3 648.9h0M1312 638.1h0M1301.6 648.2h0M1342.5 595.9h0M1361.6 556.8h0M1336.5 647.5h0M1352.1 563.4h0M1348.1 557.5h0M1353.2 565.8h0M1334.2 553.5h0M1339.1 604.6h0M1354.5 649.6h0M1335.8 554.1h0M1344 556.4h0M1360.5 606.5h0M1348.5 558.4h0M1335.4 588.5h0M1355 636.4h0M1354.7 622h0M1335.5 600.1h0M1338.9 614.4h0M1350.5 644.3h0M1348.8 620h0M1347.1 578.7h0M1338.5 650.8h0M1340.7 576.4h0M1343.6 626.9h0M1354.3 650.5h0M1345.8 595.7h0M1348.3 618.9h0M1348.4 589.6h0M1362.5 575.3h0M1351.5 603.9h0M1364.5 646.5h0M1364.1 645.7h0M1346.2 582.7h0M1336.5 564.3h0M1335.3 549.2h0M1360.6 547.9h0M1349.6 617.2h0M1359.8 561.5h0M1357.9 617h0M1363.9 564.6h0M1355.3 635.8h0M1344.8 625h0M1352.7 586.2h0M1356.5 651h0M1365.3 624.7h0M1341.5 613.7h0M1349.2 568h0M1360.1 579.2h0M1343.8 647.1h0M1361 620.6h0M1342.4 649.5h0M1358.5 621.6h0M1350.7 640.9h0M1362.9 629.3h0M1345.2 610.6h0M1362.3 548.3h0M1345.5 603.8h0M1356.4 644.6h0M1355.1 557.6h0M1337.1 580.6h0M1335.9 616.7h0M1339 573.2h0M1361.5 582.7h0M1342.6 627.4h0M1357.7 628.4h0M1358.2 556h0M1364.3 598.2h0M1364.8 650.1h0M1362.3 594.8h0M1360.7 587.4h0M1356.7 644.6h0M1346.3 640.8h0M1336.2 601.6h0M1360.2 603h0M1364.7 614.6h0M1345.5 554.4h0M1349.5 610.2h0M1362.1 648.2h0M1353.6 566.2h0M1340.9 550.2h0M1357.9 626h0M1359.4 629.5h0M1346.4 562.2h0M1351.9 602.3h0M1349.8 607.1h0M1352.2 590.5h0M1352.4 648.3h0M1364.2 560.4h0M1353.3 558.4h0M1347.6 567.7h0M1314.8 688.7h0M1307.7 674.1h0M1311.2 652.2h0M1315.8 667.5h0M1326.3 660.6h0M1303.9 687.6h0M1318.4 682.6h0M1322.8 685.7h0M1332.6 664.2h0M1323.4 688.6h0M1317.9 660.3h0M1304.7 685.8h0M1330.6 679.2h0M1305.2 688.4h0M1311.9 671.7h0M1325.5 660.5h0M1320.9 662.1h0M1306.9 683.9h0M1317.2 658.5h0M1319.3 674.8h0M1312.3 684.8h0M1327.9 680.5h0M1306 680h0M1319.2 680.1h0M1311 657.2h0M1307.2 660.6h0M1359.8 694h0M1359.2 691.7h0M1364.4 694.8h0M1348.8 695.1h0M1350.5 685.1h0M1359 689h0M1355.5 699.4h0M1367.4 682.9h0M1345.1 653.7h0M1357.9 676.8h0M1352.9 694.9h0M1369.1 683.9h0M1363.7 652.4h0M1364.6 666.1h0M1356 678.9h0M1345.5 669.6h0M1360.3 662.2h0M1349.8 680.3h0M1358.3 664.1h0M1353.8 683.8h0M1344.9 667.6h0M1355.6 669.9h0M1353.8 669.7h0M1360.5 671.7h0M1359.6 666.8h0M1350.7 662.1h0M1346.1 662.6h0M1345 655h0M1344.8 673.7h0M1343.5 675h0M1344.7 671.3h0M1362.9 691.4h0M1365.2 679.4h0M1354.7 678.5h0M1357.7 715.7h0M1371.3 775.6h0M1363.3 783.2h0M1357.3 726h0M1364.4 711.4h0M1368 720.9h0M1360.1 755.4h0M1363.5 760.6h0M1366.7 719.2h0M1370 761.9h0M1362.6 765.2h0M1374.2 770.2h0M1363.4 752.4h0M1355.4 728.2h0M1364.1 741.3h0M1360.9 732.9h0M1351.3 702.5h0M1357.8 726.5h0M1353.4 736.3h0M1366.4 734.1h0M1375.7 784.9h0M1356.1 760.9h0M1371.3 781.4h0M1355.7 710.4h0M1359.2 781.9h0M1373.9 772.7h0M1362.7 774.5h0M1373.1 778.3h0M1367.9 704h0M1364.3 785.4h0M1362.8 785.7h0M1359.2 779.9h0M1351.1 707.2h0M1360 754.8h0M1368.5 717.4h0M1368 720.8h0M1373.8 775h0M1364 787.5h0M1359.2 708.4h0M1368 717.2h0M1356.7 714.2h0M1368.4 759.8h0M1355.8 728.6h0M1366.5 770.8h0M1366.1 745.4h0M1349.9 711.7h0M1361.2 777.6h0M1369.9 726h0M1374.7 764h0M1371.4 707.2h0M1374.8 744.4h0M1351.4 718.7h0M1366.3 785.1h0M1363.9 731.5h0M1366.1 736.6h0M1371.4 737.1h0M1357.4 724.1h0M1354.8 710.1h0M1364.3 785.1h0M1370.8 727.2h0" stroke="#00ffff" stroke-width="7.2" stroke-linecap="round" fill="none"/>
<polyline points="1184.6,50.4 1196.5,155.3 1219.6,260.1 1264.4,365 1307.3,469.8 1332.5,574.7 1341.5,679.5 1364.4,784.4" fill="none" stroke="#0000ff" stroke-width="2.7" stroke-linejoin="round"/>
<circle cx="1184.6" cy="50.4" r="6.1" fill="#0000ff"/>
<circle cx="1196.5" cy="155.3" r="6.1" fill="#0000ff"/>
<circle cx="1219.6" cy="260.1" r="6.1" fill="#0000ff"/>
<circle cx="1264.4" cy="365" r="6.1" fill="#0000ff"/>
<circle cx="1307.3" cy="469.8" r="6.1" fill="#0000ff"/>
<circle cx="1332.5" cy="574.7" r="6.1" fill="#0000ff"/>
<circle cx="1341.5" cy="679.5" r="6.1" fill="#0000ff"/>
<circle cx="1364.4" cy="784.4" r="6.1" fill="#0000ff"/>
<polyline points="1140.4,18.9 1143.2,60.9 1152,102.8 1166,144.8 1174.4,186.7 1182.9,228.6 1192.6,270.6 1224.5,333.5 1320.5,438.3 1360.3,543.2 1369.1,648" fill="none" stroke="#ff0000" stroke-width="8.7" stroke-linejoin="round"/>
<circle cx="1140.4" cy="18.9" r="6.2" fill="#ff0000"/>
<circle cx="1143.2" cy="60.9" r="6.2" fill="#ff0000"/>
<circle cx="1152" cy="102.8" r="6.2" fill="#ff0000"/>
<circle cx="1166" cy="144.8" r="6.2" fill="#ff0000"/>
<circle cx="1174.4" cy="186.7" r="6.2" fill="#ff0000"/>
<circle cx="1182.9" cy="228.6" r="6.2" fill="#ff0000"/>
<circle cx="1192.6" cy="270.6" r="6.2" fill="#ff0000"/>
<circle cx="1224.5" cy="333.5" r="6.2" fill="#ff0000"/>
<circle cx="1320.5" cy="438.3" r="6.2" fill="#ff0000"/>
<circle cx="1360.3" cy="543.2" r="6.2" fill="#ff0000"/>
<circle cx="1369.1" cy="648" r="6.2" fill="#ff0000"/>
<polyline points="1148.5,18.9 1149.4,60.9 1150.7,102.8 1160.3,144.8 1171.2,186.7 1178.6,228.6 1190,270.6 1227.3,333.5 1326.6,438.3 1359.7,543.2 1379.7,648" fill="none" stroke="#9c6200" stroke-width="3.0" stroke-linejoin="round"/>
<polyline points="1148.5,18.9 1149.4,60.9 1150.7,102.8 1160.3,144.8 1171.2,186.7 1178.6,228.6 1190,270.6 1227.3,333.5 1326.6,438.3 1359.7,543.2 1379.7,648" fill="none" stroke="#ffa500" stroke-width="2.0" stroke-linejoin="round"/>
<circle cx="1148.5" cy="18.9" r="6.2" fill="#ffa500" stroke="#a06a00" stroke-width="0.7"/>
<circle cx="1149.4" cy="60.9" r="6.2" fill="#ffa500" stroke="#a06a00" stroke-width="0.7"/>
<circle cx="1150.7" cy="102.8" r="6.2" fill="#ffa500" stroke="#a06a00" stroke-width="0.7"/>
<circle cx="1160.3" cy="144.8" r="6.2" fill="#ffa500" stroke="#a06a00" stroke-width="0.7"/>
<circle cx="1171.2" cy="186.7" r="6.2" fill="#ffa500" stroke="#a06a00" stroke-width="0.7"/>
<circle cx="1178.6" cy="228.6" r="6.2" fill="#ffa500" stroke="#a06a00" stroke-width="0.7"/>
<circle cx="1190" cy="270.6" r="6.2" fill="#ffa500" stroke="#a06a00" stroke-width="0.7"/>
<circle cx="1227.3" cy="333.5" r="6.2" fill="#ffa500" stroke="#a06a00" stroke-width="0.7"/>
<circle cx="1326.6" cy="438.3" r="6.2" fill="#ffa500" stroke="#a06a00" stroke-width="0.7"/>
<circle cx="1359.7" cy="543.2" r="6.2" fill="#ffa500" stroke="#a06a00" stroke-width="0.7"/>
<circle cx="1379.7" cy="648" r="6.2" fill="#ffa500" stroke="#a06a00" stroke-width="0.7"/>
<polyline points="1159.7,18.9 1163.5,60.9 1167.4,102.8 1175.3,144.8 1183.4,186.7 1199.6,228.6 1227.7,270.6 1273.5,333.5 1303.3,438.3 1344.7,543.2 1403.4,648" fill="none" stroke="#008000" stroke-width="2.7" stroke-linejoin="round"/>
<circle cx="1159.7" cy="18.9" r="6.1" fill="#008000"/>
<circle cx="1163.5" cy="60.9" r="6.1" fill="#008000"/>
<circle cx="1167.4" cy="102.8" r="6.1" fill="#008000"/>
<circle cx="1175.3" cy="144.8" r="6.1" fill="#008000"/>
<circle cx="1183.4" cy="186.7" r="6.1" fill="#008000"/>
<circle cx="1199.6" cy="228.6" r="6.1" fill="#008000"/>
<circle cx="1227.7" cy="270.6" r="6.1" fill="#008000"/>
<circle cx="1273.5" cy="333.5" r="6.1" fill="#008000"/>
<circle cx="1303.3" cy="438.3" r="6.1" fill="#008000"/>
<circle cx="1344.7" cy="543.2" r="6.1" fill="#008000"/>
<circle cx="1403.4" cy="648" r="6.1" fill="#008000"/>
<polyline points="1127.5,29.2 1128.4,51.2 1144.5,74.5 1154.5,99.1 1159.5,125.5 1162.5,154 1164.2,185.2 1167.4,219.6 1170.4,258 1174.3,301.4 1184.3,350.5 1216.4,406.9 1273.2,471.9 1338.3,547.4 1397.4,636.3 1411.5,740.9" fill="none" stroke="#ff00ff" stroke-width="2.7" stroke-linejoin="round"/>
<circle cx="1127.5" cy="29.2" r="6.1" fill="#ff00ff"/>
<circle cx="1128.4" cy="51.2" r="6.1" fill="#ff00ff"/>
<circle cx="1144.5" cy="74.5" r="6.1" fill="#ff00ff"/>
<circle cx="1154.5" cy="99.1" r="6.1" fill="#ff00ff"/>
<circle cx="1159.5" cy="125.5" r="6.1" fill="#ff00ff"/>
<circle cx="1162.5" cy="154" r="6.1" fill="#ff00ff"/>
<circle cx="1164.2" cy="185.2" r="6.1" fill="#ff00ff"/>
<circle cx="1167.4" cy="219.6" r="6.1" fill="#ff00ff"/>
<circle cx="1170.4" cy="258" r="6.1" fill="#ff00ff"/>
<circle cx="1174.3" cy="301.4" r="6.1" fill="#ff00ff"/>
<circle cx="1184.3" cy="350.5" r="6.1" fill="#ff00ff"/>
<circle cx="1216.4" cy="406.9" r="6.1" fill="#ff00ff"/>
<circle cx="1273.2" cy="471.9" r="6.1" fill="#ff00ff"/>
<circle cx="1338.3" cy="547.4" r="6.1" fill="#ff00ff"/>
<circle cx="1397.4" cy="636.3" r="6.1" fill="#ff00ff"/>
<circle cx="1411.5" cy="740.9" r="6.1" fill="#ff00ff"/>
</g>
<rect x="1067.7" y="19.3" width="404.0999999999999" height="795.1" fill="none" stroke="#000" stroke-width="1.4"/>
<path d="M1067.7 19.3h-6.2M1067.7 123.5h-6.2M1067.7 228.5h-6.2M1067.7 333.5h-6.2M1067.7 438.5h-6.2M1067.7 543.5h-6.2M1067.7 648.5h-6.2M1067.7 752.5h-6.2M1117.5 814.4v6.2M1177.5 814.4v6.2M1237.5 814.4v6.2M1297.5 814.4v6.2M1358.5 814.4v6.2M1418.5 814.4v6.2" stroke="#000" stroke-width="1.4" fill="none"/>
<defs><clipPath id="mapclip"><rect x="1561.1999999999998" y="272.0" width="406.40000000000015" height="289.1000000000001"/></clipPath></defs>
<rect x="1562.1" y="272.9" width="404.60000000000014" height="287.30000000000007" fill="#97b6e1"/>
<rect x="1562.1" y="272.9" width="404.60000000000014" height="287.30000000000007" fill="none" stroke="#000" stroke-width="1.6"/>
<g clip-path="url(#mapclip)">
<polygon points="1560,271 1700,272 1702.2,276.2 1701.5,281.5 1698.5,284.5 1696,288 1692.5,290.5 1689,289.8 1686,287 1682,287.5 1684.5,292 1683,297 1685.5,300 1690,302 1686.5,306 1684.5,312 1680.5,309.5 1675,309 1671,308 1665.5,312 1659.5,317.5 1655,322.5 1652.8,327 1652.4,332.3 1650.5,329.6 1646,330.1 1638.7,331 1633.3,334.2 1628.7,339.6 1626,345.1 1625.1,348.6 1620.5,353.2 1614.1,356.8 1609.6,361.4 1604.1,365 1597.8,368.7 1593.2,373.2 1587.8,378.7 1585,383.2 1581.4,388.7 1578.7,395.1 1576.4,402.3 1574.6,409.6 1574.1,414.1 1574.6,422.3 1576.8,435 1580,443.2 1585,455 1591.4,465 1595,472.3 1592.8,475 1594.6,483.2 1596,487.3 1599.6,496.4 1602.3,503.7 1605,510 1606,516.4 1605,525.5 1604.1,534.6 1602.3,541.9 1599.6,549.2 1596,555.5 1591.4,558.3 1585.9,557.3 1581.4,552.8 1579.6,547.3 1575.9,541.9 1572.3,538.2 1567.7,535.5 1565,529.1 1563.6,522.8 1565.9,517.3 1561,518.2 1560,518.2" fill="#d2b48c"/>
<polygon points="1702.5,278 1706.5,279.5 1707.5,285 1706,291 1699,294 1693,297.5 1688,298 1687,295 1692,292.5 1697,289 1700,284.5 1702.5,281.5" fill="#97b6e1"/>
<polyline points="1597.3,273.2 1595.9,278.6 1600.5,283.2 1604.6,289.6 1605,295.9 1608.7,298.7 1609.6,305 1610.5,310.5 1613.2,316 1616.9,321.4 1617.8,327.8 1622.3,333.2 1626.4,337.8 1625.1,343.3" fill="none" stroke="#97b6e1" stroke-width="1.7" stroke-linejoin="round" stroke-linecap="round"/>
<polyline points="1621,273.2 1626.9,280.5 1628.7,285.9 1635.1,291.4 1636,294.1 1632.8,297.8 1633.3,305 1635.1,308.7 1641.4,313.2 1646.9,317.8 1651.5,319.6 1652.8,323.2" fill="none" stroke="#97b6e1" stroke-width="1.7" stroke-linejoin="round" stroke-linecap="round"/>
<polyline points="1562.1,294.1 1569.6,295 1573.2,299.6 1574.6,310.5 1576.4,319.6 1581.4,325.1 1584.1,331.4 1591.4,335.1 1595.9,340.5 1602.3,342.7 1606,340.5 1611.4,344.1 1616.9,347.7 1621.9,349.6" fill="none" stroke="#97b6e1" stroke-width="1.7" stroke-linejoin="round" stroke-linecap="round"/>
<polyline points="1602.3,342.7 1606,346.8 1607.8,352.3 1608.7,357.7" fill="none" stroke="#97b6e1" stroke-width="1.7" stroke-linejoin="round" stroke-linecap="round"/>
<polyline points="1562.1,386.4 1567.7,391.4 1572.3,397.8" fill="none" stroke="#97b6e1" stroke-width="1.7" stroke-linejoin="round" stroke-linecap="round"/>
<polyline points="1574.6,422.7 1570.5,423.7 1568.6,426.8 1569.6,433.2 1571.8,438.7 1570,442.3 1568.2,445 1569.6,450.5 1572.3,454.6 1575.5,457.8 1576.4,462.3 1579.6,464.1 1582.3,464.1 1585,469.6 1586.8,475.1 1588.2,479.6 1589.6,482.3 1586.8,483.3 1582.3,479.2" fill="none" stroke="#97b6e1" stroke-width="1.7" stroke-linejoin="round" stroke-linecap="round"/>
<polyline points="1687.5,273.5 1692,276.5 1697,274.5" fill="none" stroke="#97b6e1" stroke-width="1.7" stroke-linejoin="round" stroke-linecap="round"/>
<polyline points="1574.2,324.8 1580,326.5" fill="none" stroke="#b4b4b4" stroke-width="1.2"/>
<polygon points="1582.3,510.9 1588.7,505 1592.3,510 1591.4,514.6 1589.1,517.3 1585,514.6" fill="#b4b4b4"/>
<circle cx="1570" cy="468.7" r="1.3" fill="#b4b4b4"/>
<circle cx="1578.2" cy="486.9" r="1.5" fill="#b4b4b4"/>
<circle cx="1577.7" cy="500" r="1.3" fill="#b4b4b4"/>
<polyline points="1562.1,295.9 1582.3,296.8 1585.9,298.2 1588.7,301.4 1588.8,305.2 1614.6,306.4 1638.7,331" fill="none" stroke="#000" stroke-width="1.5" stroke-linejoin="round"/>
<polyline points="1562.1,340.9 1565,345.9 1571.4,352.3 1574.1,359.6 1578.7,366.8 1580.9,375 1585.9,379.6" fill="none" stroke="#000" stroke-width="1.5" stroke-linejoin="round"/>
<polyline points="1562.1,412.3 1567.7,413.7 1573.2,414.2" fill="none" stroke="#000" stroke-width="1.5" stroke-linejoin="round"/>
<polyline points="1700,272 1702.2,276.2 1701.5,281.5 1698.5,284.5 1696,288 1692.5,290.5 1689,289.8 1686,287 1682,287.5 1684.5,292 1683,297 1685.5,300 1690,302 1686.5,306 1684.5,312" fill="none" stroke="#000" stroke-width="2.2" stroke-linejoin="round" stroke-linecap="round"/>
<polyline points="1684.5,312 1680.5,309.5 1675,309 1671,308 1665.5,312 1659.5,317.5 1655,322.5 1652.8,327 1652.4,332.3 1650.5,329.6 1646,330.1 1638.7,331 1633.3,334.2 1628.7,339.6 1626,345.1 1625.1,348.6 1620.5,353.2 1614.1,356.8 1609.6,361.4 1604.1,365 1597.8,368.7" fill="none" stroke="#000" stroke-width="2.8" stroke-linejoin="round" stroke-linecap="round"/>
<polyline points="1597.8,368.7 1593.2,373.2 1587.8,378.7" fill="none" stroke="#000" stroke-width="3.6" stroke-linejoin="round" stroke-linecap="round"/>
<polyline points="1587.8,378.7 1585,383.2 1581.4,388.7 1578.7,395.1 1576.4,402.3 1574.6,409.6 1574.1,414.1" fill="none" stroke="#000" stroke-width="5.4" stroke-linejoin="round" stroke-linecap="round"/>
<polyline points="1574.1,414.1 1574.6,422.3 1576.8,435 1580,443.2 1585,455 1591.4,465 1595,472.3 1592.8,475 1594.6,483.2 1596,487.3 1599.6,496.4 1602.3,503.7 1605,510 1606,516.4 1605,525.5 1604.1,534.6 1602.3,541.9 1599.6,549.2 1596,555.5" fill="none" stroke="#000" stroke-width="2.4" stroke-linejoin="round" stroke-linecap="round"/>
<polyline points="1596,555.5 1591.4,558.3 1585.9,557.3 1581.4,552.8 1579.6,547.3 1575.9,541.9 1572.3,538.2 1567.7,535.5" fill="none" stroke="#000" stroke-width="5.0" stroke-linejoin="round" stroke-linecap="round"/>
<polyline points="1567.7,535.5 1565,529.1 1563.6,522.8 1565.9,517.3 1561,518.2" fill="none" stroke="#000" stroke-width="3.0" stroke-linejoin="round" stroke-linecap="round"/>
<polyline points="1679.7,273.4 1707,273.4" fill="none" stroke="#000" stroke-width="2.4" stroke-linejoin="round" stroke-linecap="round"/>
<polyline points="1700,273.5 1706,274.2 1708.6,279.2 1709.3,284.5 1708.2,290.5 1707.5,294.6 1703,294.2 1698.5,296.5 1694,299.5 1691,301.7 1688,304 1684.5,312" fill="none" stroke="#000" stroke-width="2.3" stroke-linejoin="round" stroke-linecap="round"/>
<polyline points="1695.8,273.5 1695.6,282.5" fill="none" stroke="#000" stroke-width="3.0" stroke-linejoin="round" stroke-linecap="round"/>
<polyline points="1674,287.5 1679,289.5 1683,288 1686.5,290 1691,291" fill="none" stroke="#000" stroke-width="3.6" stroke-linejoin="round" stroke-linecap="round"/>
<polyline points="1684,290 1683.5,296 1685,299.5" fill="none" stroke="#000" stroke-width="3.2" stroke-linejoin="round" stroke-linecap="round"/>
<polyline points="1674,299 1678,302 1683,301 1690,303 1686,307 1684.5,311.5" fill="none" stroke="#000" stroke-width="3.8" stroke-linejoin="round" stroke-linecap="round"/>
<polyline points="1684.5,312 1686.5,308" fill="none" stroke="#000" stroke-width="4.5" stroke-linejoin="round" stroke-linecap="round"/>
<polyline points="1623.2,344 1624.5,348.5" fill="none" stroke="#000" stroke-width="3.6" stroke-linejoin="round" stroke-linecap="round"/>
<polyline points="1588.5,367.5 1589.5,372.5 1593,371 1597,369" fill="none" stroke="#000" stroke-width="3.4" stroke-linejoin="round" stroke-linecap="round"/>
<polyline points="1607.8,359.6 1608.6,361.8" fill="none" stroke="#000" stroke-width="2.6" stroke-linejoin="round" stroke-linecap="round"/>
<polyline points="1613.2,355.9 1614,357.6" fill="none" stroke="#000" stroke-width="2.4" stroke-linejoin="round" stroke-linecap="round"/>
<polyline points="1618.7,353.6 1619.4,355" fill="none" stroke="#000" stroke-width="2.4" stroke-linejoin="round" stroke-linecap="round"/>
<polyline points="1602.3,364.1 1603,366" fill="none" stroke="#000" stroke-width="2.6" stroke-linejoin="round" stroke-linecap="round"/>
<polyline points="1596.9,366.6 1597.4,369" fill="none" stroke="#000" stroke-width="2.6" stroke-linejoin="round" stroke-linecap="round"/>
<polyline points="1593.4,366.9 1594.1,370.2" fill="none" stroke="#000" stroke-width="2.4" stroke-linejoin="round" stroke-linecap="round"/>
<polyline points="1595,371.4 1596.2,372" fill="none" stroke="#000" stroke-width="2.4" stroke-linejoin="round" stroke-linecap="round"/>
<polyline points="1580.4,382.5 1583.5,381.6" fill="none" stroke="#000" stroke-width="2.6" stroke-linejoin="round" stroke-linecap="round"/>
<polyline points="1578.2,387 1580.5,386.4" fill="none" stroke="#000" stroke-width="2.6" stroke-linejoin="round" stroke-linecap="round"/>
<polyline points="1576.6,391.5 1578.6,391" fill="none" stroke="#000" stroke-width="2.6" stroke-linejoin="round" stroke-linecap="round"/>
<polyline points="1575.6,396.6 1577.6,396.2" fill="none" stroke="#000" stroke-width="2.6" stroke-linejoin="round" stroke-linecap="round"/>
<polyline points="1571,401.8 1575,402.4" fill="none" stroke="#000" stroke-width="2.8" stroke-linejoin="round" stroke-linecap="round"/>
<polyline points="1571.8,406.8 1574.4,407.2" fill="none" stroke="#000" stroke-width="3.0" stroke-linejoin="round" stroke-linecap="round"/>
<polyline points="1572.4,410.5 1574.2,410.8" fill="none" stroke="#000" stroke-width="3.0" stroke-linejoin="round" stroke-linecap="round"/>
<polyline points="1652.8,324 1652.4,332.3" fill="none" stroke="#000" stroke-width="3.6" stroke-linejoin="round" stroke-linecap="round"/>
<polyline points="1588.5,468 1591.5,476 1594.6,483" fill="none" stroke="#000" stroke-width="3.6" stroke-linejoin="round" stroke-linecap="round"/>
<polyline points="1600.5,503 1601.8,506" fill="none" stroke="#000" stroke-width="3.6" stroke-linejoin="round" stroke-linecap="round"/>
<polyline points="1603,541 1600,549 1596,555.5 1590,559" fill="none" stroke="#000" stroke-width="1.6" stroke-linejoin="round" stroke-linecap="round"/>
<polygon points="1628.2,515.9 1632.3,519.1 1636,522.3 1640.5,520.5 1646,518.7 1651.5,517.8 1654.2,516.4 1652.4,515 1646,515.9 1641.4,515.5 1639.2,513.2 1636.9,516.4 1634.2,518.2 1630.5,516.4" fill="#000" stroke="#000" stroke-width="1.8" stroke-linejoin="round"/>
<polygon points="1639.5,519.5 1643.5,517.8 1643,519.4 1640,520.4" fill="#d2b48c"/>
<polyline points="1642.1,503.1 1648.5,506.2 1655.6,509.8" fill="none" stroke="#000" stroke-width="2.2" stroke-linejoin="round" stroke-linecap="round"/>
<polyline points="1655.6,511 1661.4,513.2 1667.2,517.4 1671.5,521.4 1673.6,525.2 1671,531 1669.1,537" fill="none" stroke="#000" stroke-width="4.4" stroke-linejoin="round" stroke-linecap="round"/>
<polyline points="1653.2,514 1655.5,519" fill="none" stroke="#000" stroke-width="3.6" stroke-linejoin="round" stroke-linecap="round"/>
<polyline points="1665.5,533.5 1668.5,536.5" fill="none" stroke="#000" stroke-width="3.6" stroke-linejoin="round" stroke-linecap="round"/>
<polyline points="1647.5,508.8 1648.3,509.6" fill="none" stroke="#000" stroke-width="3.0" stroke-linejoin="round" stroke-linecap="round"/>
<polyline points="1661.2,526.5 1661.6,528.5" fill="none" stroke="#000" stroke-width="2.8" stroke-linejoin="round" stroke-linecap="round"/>
<polyline points="1661.8,532 1662,532.6" fill="none" stroke="#000" stroke-width="2.4" stroke-linejoin="round" stroke-linecap="round"/>
<polyline points="1622.5,540.5 1623.6,542 1622.6,545.5" fill="none" stroke="#000" stroke-width="3.2" stroke-linejoin="round" stroke-linecap="round"/>
<polyline points="1623.5,547.5 1625,551 1625.8,553.5" fill="none" stroke="#4a5a75" stroke-width="1.6" stroke-dasharray="1.5 1.2"/>
<polyline points="1626.5,534 1628.5,533.5 1632,535.5" fill="none" stroke="#64789a" stroke-width="1.4" stroke-dasharray="2 1.5"/>
<polyline points="1653.3,539.1 1657.3,543.7 1657.2,547.2 1654.2,549.6" fill="none" stroke="#000" stroke-width="3.0" stroke-linejoin="round" stroke-linecap="round"/>
<polyline points="1648.2,552 1646.4,555.5 1649,558 1651.5,561" fill="none" stroke="#000" stroke-width="3.8" stroke-linejoin="round" stroke-linecap="round"/>
<polygon points="1649.5,558 1651.3,560.3 1649.3,560.3" fill="#d2b48c"/>
<polyline points="1661.4,559.3 1667,557.5 1672.9,554.1" fill="none" stroke="#000" stroke-width="2.6" stroke-linejoin="round" stroke-linecap="round"/>
<polyline points="1672.9,554.1 1677.7,546.8 1680,545.4 1682.4,546.4 1686.4,550.3 1692.5,554.3 1694.1,556.5 1694.1,560" fill="none" stroke="#000" stroke-width="2.2" stroke-linejoin="round" stroke-linecap="round"/>
<polyline points="1946.6,373.8 1948.6,372.8 1950.8,371" fill="none" stroke="#000" stroke-width="3.0" stroke-linejoin="round" stroke-linecap="round"/>
<ellipse cx="1599.3" cy="397.9" rx="6.0" ry="4.9" fill="#000"/>
<circle cx="1597.3" cy="397.3" r="3.3" fill="#ff0000"/>
</g>
<path d="M1584.6 272.9v-8.7M1584.6 560.2v8.7M1652 272.9v-8.7M1652 560.2v8.7M1719.4 272.9v-8.7M1719.4 560.2v8.7M1786.9 272.9v-8.7M1786.9 560.2v8.7M1854.3 272.9v-8.7M1854.3 560.2v8.7M1921.7 272.9v-8.7M1921.7 560.2v8.7M1562.1 510.6h-8.7M1966.7 510.6h8.7M1562.1 433.8h-8.7M1966.7 433.8h8.7M1562.1 354.7h-8.7M1966.7 354.7h8.7M1562.1 272.9h-8.7M1966.7 272.9h8.7" stroke="#000" stroke-width="3.3" fill="none"/>
<path d="M1562.1 272.9v-3.2M1562.1 560.2v3.2M1607.1 272.9v-3.2M1607.1 560.2v3.2M1629.5 272.9v-3.2M1629.5 560.2v3.2M1674.5 272.9v-3.2M1674.5 560.2v3.2M1697 272.9v-3.2M1697 560.2v3.2M1741.9 272.9v-3.2M1741.9 560.2v3.2M1764.4 272.9v-3.2M1764.4 560.2v3.2M1809.4 272.9v-3.2M1809.4 560.2v3.2M1831.8 272.9v-3.2M1831.8 560.2v3.2M1876.8 272.9v-3.2M1876.8 560.2v3.2M1899.3 272.9v-3.2M1899.3 560.2v3.2M1944.2 272.9v-3.2M1944.2 560.2v3.2M1966.7 272.9v-3.2M1966.7 560.2v3.2M1562.1 560.6h-3.2M1966.7 560.6h3.2M1562.1 535.7h-3.2M1966.7 535.7h3.2M1562.1 485.3h-3.2M1966.7 485.3h3.2M1562.1 459.7h-3.2M1966.7 459.7h3.2M1562.1 407.8h-3.2M1966.7 407.8h3.2M1562.1 381.4h-3.2M1966.7 381.4h3.2M1562.1 327.8h-3.2M1966.7 327.8h3.2M1562.1 300.5h-3.2M1966.7 300.5h3.2" stroke="#000" stroke-width="1.8" fill="none"/>
<rect x="1676.1" y="635.8" width="175.9" height="179.1" rx="4.5" ry="4.5" fill="#fff" fill-opacity="0.8" stroke="#cccccc" stroke-width="1.4"/>
<path d="M1684.2 655.4H1731.7" stroke="#0000ff" stroke-width="2.7"/>
<circle cx="1708" cy="655.4" r="6.1" fill="#0000ff"/>
<path d="M1684.2 690.3H1731.7" stroke="#ff0000" stroke-width="2.7"/>
<circle cx="1708" cy="690.3" r="6.1" fill="#ff0000"/>
<path d="M1684.2 724.6H1731.7" stroke="#ffa500" stroke-width="2.7"/>
<circle cx="1708" cy="724.6" r="6.1" fill="#ffa500"/>
<path d="M1684.2 758.4H1731.7" stroke="#008000" stroke-width="2.7"/>
<circle cx="1708" cy="758.4" r="6.1" fill="#008000"/>
<path d="M1684.2 793.1H1731.7" stroke="#ff00ff" stroke-width="2.7"/>
<circle cx="1708" cy="793.1" r="6.1" fill="#ff00ff"/>
<g style="filter:grayscale(1)">
<text x="64.5" y="26.2" font-size="17.4" text-anchor="end" textLength="10.8" lengthAdjust="spacingAndGlyphs" >0</text>
<text x="64.5" y="130.4" font-size="17.4" text-anchor="end" textLength="10.8" lengthAdjust="spacingAndGlyphs" >5</text>
<text x="64.5" y="235.4" font-size="17.4" text-anchor="end" textLength="21.9" lengthAdjust="spacingAndGlyphs" >10</text>
<text x="64.5" y="340.4" font-size="17.4" text-anchor="end" textLength="21.9" lengthAdjust="spacingAndGlyphs" >15</text>
<text x="64.5" y="445.4" font-size="17.4" text-anchor="end" textLength="21.9" lengthAdjust="spacingAndGlyphs" >20</text>
<text x="64.5" y="550.4" font-size="17.4" text-anchor="end" textLength="21.9" lengthAdjust="spacingAndGlyphs" >25</text>
<text x="64.5" y="655.4" font-size="17.4" text-anchor="end" textLength="21.9" lengthAdjust="spacingAndGlyphs" >30</text>
<text x="64.5" y="759.4" font-size="17.4" text-anchor="end" textLength="21.9" lengthAdjust="spacingAndGlyphs" >35</text>
<text x="110.3" y="841.9" font-size="17.4" text-anchor="middle" textLength="21.2" lengthAdjust="spacingAndGlyphs" >24</text>
<text x="209.3" y="841.9" font-size="17.4" text-anchor="middle" textLength="21.2" lengthAdjust="spacingAndGlyphs" >26</text>
<text x="309.3" y="841.9" font-size="17.4" text-anchor="middle" textLength="21.2" lengthAdjust="spacingAndGlyphs" >28</text>
<text x="408.3" y="841.9" font-size="17.4" text-anchor="middle" textLength="21.2" lengthAdjust="spacingAndGlyphs" >30</text>
<text x="623.3" y="841.9" font-size="17.4" text-anchor="middle" textLength="37.7" lengthAdjust="spacingAndGlyphs" >36.2</text>
<text x="725.3" y="841.9" font-size="17.4" text-anchor="middle" textLength="37.7" lengthAdjust="spacingAndGlyphs" >36.4</text>
<text x="828.3" y="841.9" font-size="17.4" text-anchor="middle" textLength="37.7" lengthAdjust="spacingAndGlyphs" >36.6</text>
<text x="930.3" y="841.9" font-size="17.4" text-anchor="middle" textLength="37.7" lengthAdjust="spacingAndGlyphs" >36.8</text>
<text transform="translate(1116 855.5) rotate(-45)" x="0" y="6.2" font-size="17.4" text-anchor="middle" textLength="62.9" lengthAdjust="spacingAndGlyphs">1022.5</text>
<text transform="translate(1176 855.5) rotate(-45)" x="0" y="6.2" font-size="17.4" text-anchor="middle" textLength="62.9" lengthAdjust="spacingAndGlyphs">1023.0</text>
<text transform="translate(1236 855.5) rotate(-45)" x="0" y="6.2" font-size="17.4" text-anchor="middle" textLength="62.9" lengthAdjust="spacingAndGlyphs">1023.5</text>
<text transform="translate(1296 855.5) rotate(-45)" x="0" y="6.2" font-size="17.4" text-anchor="middle" textLength="62.9" lengthAdjust="spacingAndGlyphs">1024.0</text>
<text transform="translate(1357 855.5) rotate(-45)" x="0" y="6.2" font-size="17.4" text-anchor="middle" textLength="62.9" lengthAdjust="spacingAndGlyphs">1024.5</text>
<text transform="translate(1417 855.5) rotate(-45)" x="0" y="6.2" font-size="17.4" text-anchor="middle" textLength="62.9" lengthAdjust="spacingAndGlyphs">1025.0</text>
<text transform="translate(28.9 482.0) rotate(-90)" x="0" y="0" font-size="23.2" font-weight="bold" textLength="75.2" lengthAdjust="spacingAndGlyphs">Depth</text>
<text transform="translate(28.9 396.8) rotate(-90)" x="0" y="0" font-size="23.2" font-weight="bold" textLength="42.0" lengthAdjust="spacingAndGlyphs">(m)</text>
<text x="169.6" y="872.4" font-size="23.2" font-weight="bold" textLength="182.6" lengthAdjust="spacingAndGlyphs" >Temperature (</text>
<text x="353" y="863" font-size="16.4" font-style="italic" textLength="8.8" lengthAdjust="spacingAndGlyphs" >o</text>
<text x="363.6" y="872.4" font-size="23.2" font-style="italic" textLength="15.6" lengthAdjust="spacingAndGlyphs" >C</text>
<text x="380.9" y="872.4" font-size="23.2" font-weight="bold" textLength="7.6" lengthAdjust="spacingAndGlyphs" >)</text>
<text x="725.8" y="869.6" font-size="23.2" font-weight="bold" textLength="95.6" lengthAdjust="spacingAndGlyphs" >Salinity</text>
<text x="1162.7" y="907.5" font-size="23.2" font-weight="bold" textLength="95.1" lengthAdjust="spacingAndGlyphs" >Density</text>
<text x="1268.5" y="907.5" font-size="23.2" font-weight="bold" textLength="36.6" lengthAdjust="spacingAndGlyphs" >(kg</text>
<text x="1312.5" y="907.5" font-size="23.2" font-weight="bold" textLength="61.6" lengthAdjust="spacingAndGlyphs" >m-3)</text>
<text x="1521.4" y="36.7" font-size="23.3" font-weight="bold" textLength="150" lengthAdjust="spacingAndGlyphs" >Comparison</text>
<text x="1680.3" y="36.7" font-size="23.3" font-weight="bold" textLength="68.1" lengthAdjust="spacingAndGlyphs" >Date:</text>
<text x="1757.3" y="36.7" font-size="23.3" font-weight="bold" textLength="143.6" lengthAdjust="spacingAndGlyphs" >2025-07-28</text>
<text x="1521.4" y="89.6" font-size="23.3" font-weight="bold" textLength="83.6" lengthAdjust="spacingAndGlyphs" >Glider:</text>
<text x="1614.3" y="89.6" font-size="23.3" font-weight="bold" textLength="98.8" lengthAdjust="spacingAndGlyphs" >franklin</text>
<text x="1521.4" y="115.9" font-size="23.3" font-weight="bold" textLength="105" lengthAdjust="spacingAndGlyphs" >Profiles:</text>
<text x="1635.3" y="115.9" font-size="23.3" font-weight="bold" textLength="30.7" lengthAdjust="spacingAndGlyphs" >83</text>
<text x="1521.4" y="142.4" font-size="23.3" font-weight="bold" textLength="66.5" lengthAdjust="spacingAndGlyphs" >First:</text>
<text x="1596.3" y="142.4" font-size="23.3" font-weight="bold" textLength="144" lengthAdjust="spacingAndGlyphs" >2025-07-28</text>
<text x="1748.8" y="142.4" font-size="23.3" font-weight="bold" textLength="112" lengthAdjust="spacingAndGlyphs" >00:50:10</text>
<text x="1521.4" y="168.8" font-size="23.3" font-weight="bold" textLength="61.8" lengthAdjust="spacingAndGlyphs" >Last:</text>
<text x="1592.1" y="168.8" font-size="23.3" font-weight="bold" textLength="143.5" lengthAdjust="spacingAndGlyphs" >2025-07-28</text>
<text x="1744.1" y="168.8" font-size="23.3" font-weight="bold" textLength="111.8" lengthAdjust="spacingAndGlyphs" >23:53:38</text>
<text x="1521.4" y="195.1" font-size="23.3" font-weight="bold" textLength="103.9" lengthAdjust="spacingAndGlyphs" >Method:</text>
<text x="1634.2" y="195.1" font-size="23.3" font-weight="bold" textLength="227.1" lengthAdjust="spacingAndGlyphs" >Nearest-Neighbor</text>
<text x="161" y="917.9" font-size="17.5" font-style="italic" textLength="55.4" lengthAdjust="spacingAndGlyphs" >Ocean</text>
<text x="221.6" y="917.9" font-size="17.5" font-style="italic" textLength="40.4" lengthAdjust="spacingAndGlyphs" >Heat</text>
<text x="268" y="917.9" font-size="17.5" font-style="italic" textLength="69.9" lengthAdjust="spacingAndGlyphs" >Content</text>
<text x="343.2" y="917.9" font-size="17.5" font-style="italic" textLength="85.2" lengthAdjust="spacingAndGlyphs" >(kJ/cm^2)</text>
<text x="434.9" y="917.9" font-size="17.5" font-style="italic" textLength="6.4" lengthAdjust="spacingAndGlyphs" >-</text>
<text x="446" y="917.9" font-size="17.5" font-style="italic" textLength="58" lengthAdjust="spacingAndGlyphs" >Glider:</text>
<text x="509.8" y="917.9" font-size="17.5" font-style="italic" textLength="76.8" lengthAdjust="spacingAndGlyphs" >17.5195,</text>
<text x="597.6" y="917.9" font-size="17.5" font-style="italic" textLength="64" lengthAdjust="spacingAndGlyphs" >RTOFS:</text>
<text x="666.4" y="917.9" font-size="17.5" font-style="italic" textLength="77.2" lengthAdjust="spacingAndGlyphs" >25.1522,</text>
<text x="754" y="917.9" font-size="17.5" font-style="italic" textLength="58" lengthAdjust="spacingAndGlyphs" >RTOFS</text>
<text x="817.6" y="917.9" font-size="17.5" font-style="italic" textLength="84.2" lengthAdjust="spacingAndGlyphs" >(Parallel):</text>
<text x="906.2" y="917.9" font-size="17.5" font-style="italic" textLength="76.6" lengthAdjust="spacingAndGlyphs" >24.5631,</text>
<text x="994.4" y="917.9" font-size="17.5" font-style="italic" textLength="51" lengthAdjust="spacingAndGlyphs" >ESPC:</text>
<text x="1050.2" y="917.9" font-size="17.5" font-style="italic" textLength="76.6" lengthAdjust="spacingAndGlyphs" >21.4359,</text>
<text x="1137.9" y="917.9" font-size="17.5" font-style="italic" textLength="69.9" lengthAdjust="spacingAndGlyphs" >CMEMS:</text>
<text x="1213.7" y="917.9" font-size="17.5" font-style="italic" textLength="76.8" lengthAdjust="spacingAndGlyphs" >32.3469,</text>
<text x="1301.2" y="917.9" font-size="17.5" font-style="italic" textLength="72.3" lengthAdjust="spacingAndGlyphs" >NESDIS:</text>
<text x="1378.2" y="917.9" font-size="17.5" font-style="italic" textLength="37.6" lengthAdjust="spacingAndGlyphs" >nan,</text>
<text x="1546.6" y="282.3" font-size="22.4" text-anchor="end" textLength="56" lengthAdjust="spacingAndGlyphs" >36°N</text>
<text x="1546.6" y="364.1" font-size="22.4" text-anchor="end" textLength="56" lengthAdjust="spacingAndGlyphs" >33°N</text>
<text x="1546.6" y="443.2" font-size="22.4" text-anchor="end" textLength="56" lengthAdjust="spacingAndGlyphs" >30°N</text>
<text x="1546.6" y="520" font-size="22.4" text-anchor="end" textLength="56" lengthAdjust="spacingAndGlyphs" >27°N</text>
<text transform="translate(1581.8 604.4) rotate(-45)" x="0" y="8.0" font-size="22.4" text-anchor="middle" textLength="62.5" lengthAdjust="spacingAndGlyphs">81°W</text>
<text transform="translate(1649.2 604.4) rotate(-45)" x="0" y="8.0" font-size="22.4" text-anchor="middle" textLength="62.5" lengthAdjust="spacingAndGlyphs">78°W</text>
<text transform="translate(1716.6 604.4) rotate(-45)" x="0" y="8.0" font-size="22.4" text-anchor="middle" textLength="62.5" lengthAdjust="spacingAndGlyphs">75°W</text>
<text transform="translate(1784.1 604.4) rotate(-45)" x="0" y="8.0" font-size="22.4" text-anchor="middle" textLength="62.5" lengthAdjust="spacingAndGlyphs">72°W</text>
<text transform="translate(1851.5 604.4) rotate(-45)" x="0" y="8.0" font-size="22.4" text-anchor="middle" textLength="62.5" lengthAdjust="spacingAndGlyphs">69°W</text>
<text transform="translate(1918.9 604.4) rotate(-45)" x="0" y="8.0" font-size="22.4" text-anchor="middle" textLength="62.5" lengthAdjust="spacingAndGlyphs">66°W</text>
<text x="1747.2" y="664" font-size="23.6" textLength="86" lengthAdjust="spacingAndGlyphs" >franklin</text>
<text x="1747.2" y="698.9" font-size="23.6" textLength="73" lengthAdjust="spacingAndGlyphs" >RTOFS</text>
<text x="1747.2" y="733.1" font-size="23.6" textLength="95.5" lengthAdjust="spacingAndGlyphs" >RTOFS-P</text>
<text x="1747.2" y="766.9" font-size="23.6" textLength="58.7" lengthAdjust="spacingAndGlyphs" >ESPC</text>
<text x="1747.2" y="801" font-size="23.6" textLength="83.9" lengthAdjust="spacingAndGlyphs" >CMEMS</text>
</g>
</svg>
</body></html>
